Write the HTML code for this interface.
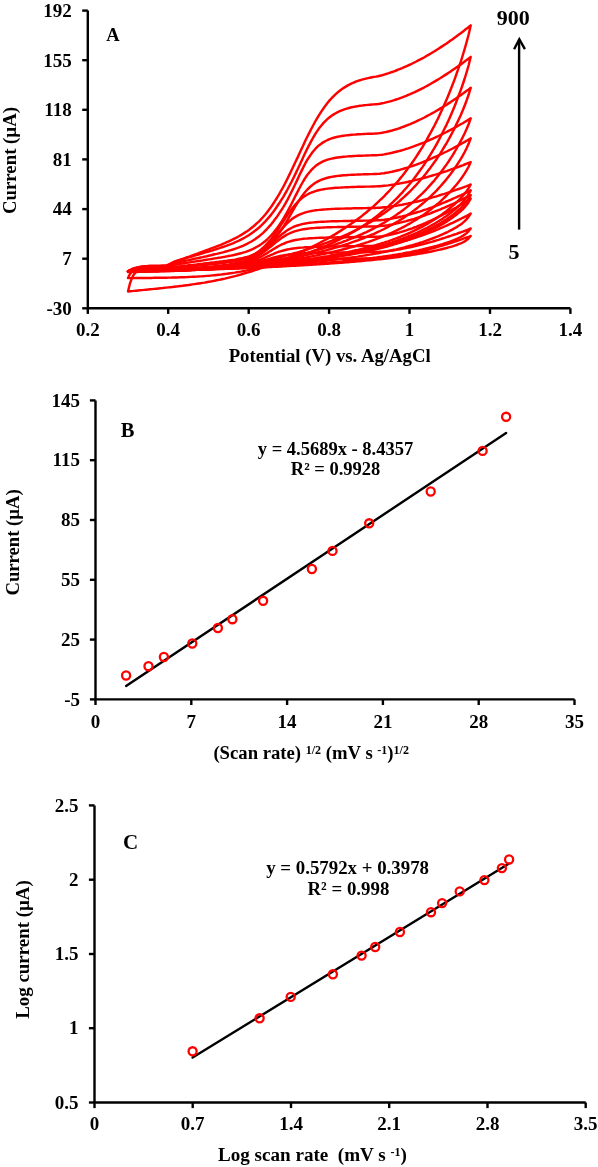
<!DOCTYPE html>
<html><head><meta charset="utf-8"><style>
html,body{margin:0;padding:0;background:#fff;}
body{width:598px;height:1167px;overflow:hidden;}
svg{display:block;will-change:transform;}
text{font-family:"Liberation Serif", serif;font-weight:bold;fill:#000;}
</style></head><body>
<svg width="598" height="1167" viewBox="0 0 598 1167">
<path d="M87.8,10.6 V308.3 H570.4" fill="none" stroke="#000" stroke-width="2.4" stroke-linejoin="miter"/>
<line x1="82.2" y1="10.6" x2="87.8" y2="10.6" stroke="#000" stroke-width="2.4" stroke-linecap="butt"/>
<line x1="82.2" y1="60.2" x2="87.8" y2="60.2" stroke="#000" stroke-width="2.4" stroke-linecap="butt"/>
<line x1="82.2" y1="109.8" x2="87.8" y2="109.8" stroke="#000" stroke-width="2.4" stroke-linecap="butt"/>
<line x1="82.2" y1="159.4" x2="87.8" y2="159.4" stroke="#000" stroke-width="2.4" stroke-linecap="butt"/>
<line x1="82.2" y1="209.1" x2="87.8" y2="209.1" stroke="#000" stroke-width="2.4" stroke-linecap="butt"/>
<line x1="82.2" y1="258.7" x2="87.8" y2="258.7" stroke="#000" stroke-width="2.4" stroke-linecap="butt"/>
<line x1="82.2" y1="308.3" x2="87.8" y2="308.3" stroke="#000" stroke-width="2.4" stroke-linecap="butt"/>
<line x1="87.8" y1="308.3" x2="87.8" y2="313.9" stroke="#000" stroke-width="2.4" stroke-linecap="butt"/>
<line x1="168.2" y1="308.3" x2="168.2" y2="313.9" stroke="#000" stroke-width="2.4" stroke-linecap="butt"/>
<line x1="248.7" y1="308.3" x2="248.7" y2="313.9" stroke="#000" stroke-width="2.4" stroke-linecap="butt"/>
<line x1="329.1" y1="308.3" x2="329.1" y2="313.9" stroke="#000" stroke-width="2.4" stroke-linecap="butt"/>
<line x1="409.5" y1="308.3" x2="409.5" y2="313.9" stroke="#000" stroke-width="2.4" stroke-linecap="butt"/>
<line x1="490.0" y1="308.3" x2="490.0" y2="313.9" stroke="#000" stroke-width="2.4" stroke-linecap="butt"/>
<line x1="570.4" y1="308.3" x2="570.4" y2="313.9" stroke="#000" stroke-width="2.4" stroke-linecap="butt"/>
<text x="71.8" y="16.9" font-size="19" text-anchor="end" >192</text>
<text x="71.8" y="66.5" font-size="19" text-anchor="end" >155</text>
<text x="71.8" y="116.1" font-size="19" text-anchor="end" >118</text>
<text x="71.8" y="165.8" font-size="19" text-anchor="end" >81</text>
<text x="71.8" y="215.4" font-size="19" text-anchor="end" >44</text>
<text x="71.8" y="265.0" font-size="19" text-anchor="end" >7</text>
<text x="71.8" y="314.6" font-size="19" text-anchor="end" >-30</text>
<text x="87.8" y="336.0" font-size="19" text-anchor="middle" >0.2</text>
<text x="168.2" y="336.0" font-size="19" text-anchor="middle" >0.4</text>
<text x="248.7" y="336.0" font-size="19" text-anchor="middle" >0.6</text>
<text x="329.1" y="336.0" font-size="19" text-anchor="middle" >0.8</text>
<text x="409.5" y="336.0" font-size="19" text-anchor="middle" >1</text>
<text x="490.0" y="336.0" font-size="19" text-anchor="middle" >1.2</text>
<text x="570.4" y="336.0" font-size="19" text-anchor="middle" >1.4</text>
<text x="329.7" y="361.5" font-size="18.75" text-anchor="middle" >Potential (V) vs. Ag/AgCl</text>
<text x="113.0" y="40.6" font-size="18.5" text-anchor="middle" >A</text>
<text transform="translate(15.8,160.5) rotate(-90)" font-size="18.8" text-anchor="middle">Current (µA)</text>
<text x="513.2" y="25.4" font-size="22" text-anchor="middle" >900</text>
<text x="514.0" y="258.8" font-size="22" text-anchor="middle" >5</text>
<line x1="519.1" y1="229.6" x2="519.1" y2="40.0" stroke="#000" stroke-width="2.4" stroke-linecap="butt"/>
<path d="M514.1,49.2 L519.3,39.2 L524.9,49.2" fill="none" stroke="#000" stroke-width="2.4" stroke-linejoin="miter"/>
<g fill="none" stroke="#ff0000" stroke-width="2.45" stroke-linejoin="round">
<path d="M128.0,271.2 L130.0,270.8 L132.0,270.5 L134.1,270.3 L136.1,270.2 L138.1,270.1 L140.1,270.0 L142.1,270.0 L144.1,269.9 L146.2,269.9 L148.2,269.8 L150.2,269.8 L152.2,269.8 L154.2,269.7 L156.2,269.7 L158.3,269.7 L160.3,269.7 L162.3,269.6 L164.3,269.6 L166.3,269.6 L168.3,269.5 L170.4,269.5 L172.4,269.5 L174.4,269.4 L176.4,269.4 L178.4,269.3 L180.4,269.3 L182.5,269.3 L184.5,269.2 L186.5,269.2 L188.5,269.1 L190.5,269.1 L192.5,269.0 L194.5,269.0 L196.6,269.0 L198.6,268.9 L200.6,268.9 L202.6,268.8 L204.6,268.8 L206.6,268.7 L208.7,268.6 L210.7,268.6 L212.7,268.5 L214.7,268.5 L216.7,268.4 L218.7,268.3 L220.8,268.2 L222.8,268.1 L224.8,268.0 L226.8,267.9 L228.8,267.8 L230.8,267.7 L232.9,267.6 L234.9,267.4 L236.9,267.3 L238.9,267.1 L240.9,266.9 L242.9,266.7 L244.9,266.5 L247.0,266.2 L249.0,266.0 L251.0,265.7 L253.0,265.4 L255.0,265.1 L257.0,264.8 L259.1,264.4 L261.1,264.1 L263.1,263.7 L265.1,263.3 L267.1,263.0 L269.1,262.6 L271.2,262.3 L273.2,261.9 L275.2,261.6 L277.2,261.3 L279.2,261.1 L281.2,260.9 L283.3,260.7 L285.3,260.5 L287.3,260.3 L289.3,260.2 L291.3,260.0 L293.3,259.9 L295.3,259.8 L297.4,259.7 L299.4,259.7 L301.4,259.6 L303.4,259.5 L305.4,259.5 L307.4,259.4 L309.5,259.4 L311.5,259.3 L313.5,259.3 L315.5,259.2 L317.5,259.2 L319.5,259.2 L321.6,259.1 L323.6,259.1 L325.6,259.1 L327.6,259.0 L329.6,259.0 L331.6,259.0 L333.7,258.9 L335.7,258.9 L337.7,258.9 L339.7,258.8 L341.7,258.8 L343.7,258.8 L345.8,258.8 L347.8,258.7 L349.8,258.7 L351.8,258.7 L353.8,258.6 L355.8,258.6 L357.8,258.6 L359.9,258.6 L361.9,258.5 L363.9,258.5 L365.9,258.5 L367.9,258.4 L369.9,258.4 L372.0,258.4 L374.0,258.4 L376.0,258.3 L378.0,258.3 L380.0,258.1 L382.0,258.0 L384.1,257.8 L386.1,257.6 L388.1,257.4 L390.1,257.1 L392.1,256.9 L394.1,256.6 L396.2,256.3 L398.2,256.0 L400.2,255.6 L402.2,255.3 L404.2,254.9 L406.2,254.5 L408.2,254.1 L410.3,253.7 L412.3,253.3 L414.3,252.9 L416.3,252.4 L418.3,252.0 L420.3,251.5 L422.4,251.0 L424.4,250.5 L426.4,250.0 L428.4,249.5 L430.4,248.9 L432.4,248.4 L434.5,247.8 L436.5,247.3 L438.5,246.7 L440.5,246.1 L442.5,245.5 L444.5,244.9 L446.6,244.3 L448.6,243.6 L450.6,243.0 L452.6,242.3 L454.6,241.7 L456.6,241.0 L458.6,240.3 L460.7,239.6 L462.7,238.9 L464.7,238.2 L466.7,237.5 L468.7,236.8 L470.7,236.0 L468.7,238.3 L466.7,240.0 L464.7,241.4 L462.7,242.5 L460.7,243.4 L458.6,244.2 L456.6,245.0 L454.6,245.6 L452.6,246.3 L450.6,246.9 L448.6,247.4 L446.6,248.0 L444.5,248.5 L442.5,249.0 L440.5,249.5 L438.5,249.9 L436.5,250.4 L434.5,250.8 L432.4,251.2 L430.4,251.7 L428.4,252.1 L426.4,252.5 L424.4,252.8 L422.4,253.2 L420.3,253.6 L418.3,253.9 L416.3,254.3 L414.3,254.6 L412.3,254.9 L410.3,255.2 L408.2,255.5 L406.2,255.8 L404.2,256.1 L402.2,256.4 L400.2,256.7 L398.2,257.0 L396.2,257.2 L394.1,257.5 L392.1,257.8 L390.1,258.0 L388.1,258.3 L386.1,258.5 L384.1,258.7 L382.0,259.0 L380.0,259.2 L378.0,259.4 L376.0,259.6 L374.0,259.8 L372.0,260.0 L369.9,260.2 L367.9,260.4 L365.9,260.6 L363.9,260.8 L361.9,261.0 L359.9,261.2 L357.8,261.4 L355.8,261.5 L353.8,261.7 L351.8,261.9 L349.8,262.0 L347.8,262.2 L345.8,262.4 L343.7,262.5 L341.7,262.7 L339.7,262.8 L337.7,263.0 L335.7,263.1 L333.7,263.3 L331.6,263.4 L329.6,263.6 L327.6,263.7 L325.6,263.8 L323.6,264.0 L321.6,264.1 L319.5,264.2 L317.5,264.4 L315.5,264.5 L313.5,264.6 L311.5,264.8 L309.5,264.9 L307.4,265.0 L305.4,265.1 L303.4,265.2 L301.4,265.4 L299.4,265.5 L297.4,265.6 L295.3,265.7 L293.3,265.8 L291.3,265.9 L289.3,266.0 L287.3,266.1 L285.3,266.3 L283.3,266.4 L281.2,266.5 L279.2,266.6 L277.2,266.7 L275.2,266.8 L273.2,266.9 L271.2,267.0 L269.1,267.1 L267.1,267.2 L265.1,267.3 L263.1,267.3 L261.1,267.4 L259.1,267.5 L257.0,267.6 L255.0,267.7 L253.0,267.8 L251.0,267.9 L249.0,268.0 L247.0,268.1 L244.9,268.1 L242.9,268.2 L240.9,268.3 L238.9,268.4 L236.9,268.4 L234.9,268.5 L232.9,268.6 L230.8,268.7 L228.8,268.7 L226.8,268.8 L224.8,268.9 L222.8,268.9 L220.8,269.0 L218.7,269.1 L216.7,269.1 L214.7,269.2 L212.7,269.3 L210.7,269.3 L208.7,269.4 L206.6,269.4 L204.6,269.5 L202.6,269.5 L200.6,269.6 L198.6,269.6 L196.6,269.7 L194.5,269.7 L192.5,269.8 L190.5,269.8 L188.5,269.9 L186.5,269.9 L184.5,270.0 L182.5,270.0 L180.4,270.1 L178.4,270.1 L176.4,270.2 L174.4,270.2 L172.4,270.3 L170.4,270.3 L168.3,270.3 L166.3,270.4 L164.3,270.4 L162.3,270.5 L160.3,270.5 L158.3,270.5 L156.2,270.6 L154.2,270.6 L152.2,270.7 L150.2,270.7 L148.2,270.8 L146.2,270.8 L144.1,270.8 L142.1,270.9 L140.1,270.9 L138.1,271.0 L136.1,271.0 L134.1,271.0 L132.0,271.1 L130.0,271.1Z"/>
<path d="M128.0,271.2 L130.0,270.8 L132.0,270.5 L134.1,270.3 L136.1,270.2 L138.1,270.1 L140.1,270.0 L142.1,270.0 L144.1,269.9 L146.2,269.9 L148.2,269.8 L150.2,269.8 L152.2,269.8 L154.2,269.7 L156.2,269.7 L158.3,269.7 L160.3,269.6 L162.3,269.6 L164.3,269.6 L166.3,269.6 L168.3,269.5 L170.4,269.5 L172.4,269.5 L174.4,269.4 L176.4,269.4 L178.4,269.3 L180.4,269.3 L182.5,269.3 L184.5,269.2 L186.5,269.2 L188.5,269.1 L190.5,269.1 L192.5,269.0 L194.5,269.0 L196.6,268.9 L198.6,268.9 L200.6,268.8 L202.6,268.8 L204.6,268.7 L206.6,268.6 L208.7,268.6 L210.7,268.5 L212.7,268.4 L214.7,268.3 L216.7,268.2 L218.7,268.2 L220.8,268.0 L222.8,267.9 L224.8,267.8 L226.8,267.7 L228.8,267.5 L230.8,267.3 L232.9,267.1 L234.9,266.9 L236.9,266.7 L238.9,266.4 L240.9,266.1 L242.9,265.8 L244.9,265.4 L247.0,265.1 L249.0,264.6 L251.0,264.2 L253.0,263.7 L255.0,263.2 L257.0,262.7 L259.1,262.1 L261.1,261.5 L263.1,260.9 L265.1,260.2 L267.1,259.6 L269.1,259.0 L271.2,258.3 L273.2,257.7 L275.2,257.2 L277.2,256.7 L279.2,256.2 L281.2,255.8 L283.3,255.4 L285.3,255.0 L287.3,254.8 L289.3,254.5 L291.3,254.3 L293.3,254.1 L295.3,253.9 L297.4,253.8 L299.4,253.6 L301.4,253.5 L303.4,253.4 L305.4,253.3 L307.4,253.2 L309.5,253.2 L311.5,253.1 L313.5,253.0 L315.5,253.0 L317.5,252.9 L319.5,252.9 L321.6,252.9 L323.6,252.8 L325.6,252.8 L327.6,252.7 L329.6,252.7 L331.6,252.7 L333.7,252.6 L335.7,252.6 L337.7,252.6 L339.7,252.5 L341.7,252.5 L343.7,252.5 L345.8,252.5 L347.8,252.4 L349.8,252.4 L351.8,252.4 L353.8,252.3 L355.8,252.3 L357.8,252.3 L359.9,252.2 L361.9,252.2 L363.9,252.2 L365.9,252.2 L367.9,252.1 L369.9,252.1 L372.0,252.1 L374.0,252.1 L376.0,252.0 L378.0,251.9 L380.0,251.8 L382.0,251.7 L384.1,251.5 L386.1,251.3 L388.1,251.0 L390.1,250.8 L392.1,250.5 L394.1,250.2 L396.2,249.9 L398.2,249.5 L400.2,249.2 L402.2,248.8 L404.2,248.4 L406.2,248.0 L408.2,247.6 L410.3,247.2 L412.3,246.7 L414.3,246.3 L416.3,245.8 L418.3,245.3 L420.3,244.8 L422.4,244.3 L424.4,243.8 L426.4,243.2 L428.4,242.7 L430.4,242.1 L432.4,241.6 L434.5,241.0 L436.5,240.4 L438.5,239.8 L440.5,239.1 L442.5,238.5 L444.5,237.9 L446.6,237.2 L448.6,236.5 L450.6,235.9 L452.6,235.2 L454.6,234.5 L456.6,233.8 L458.6,233.0 L460.7,232.3 L462.7,231.6 L464.7,230.8 L466.7,230.1 L468.7,229.3 L470.7,228.5 L468.7,231.1 L466.7,233.0 L464.7,234.6 L462.7,235.9 L460.7,237.0 L458.6,238.0 L456.6,239.0 L454.6,239.8 L452.6,240.6 L450.6,241.4 L448.6,242.1 L446.6,242.8 L444.5,243.4 L442.5,244.1 L440.5,244.7 L438.5,245.3 L436.5,245.9 L434.5,246.4 L432.4,247.0 L430.4,247.5 L428.4,248.0 L426.4,248.5 L424.4,249.0 L422.4,249.5 L420.3,249.9 L418.3,250.4 L416.3,250.8 L414.3,251.2 L412.3,251.6 L410.3,252.1 L408.2,252.4 L406.2,252.8 L404.2,253.2 L402.2,253.6 L400.2,253.9 L398.2,254.3 L396.2,254.6 L394.1,254.9 L392.1,255.3 L390.1,255.6 L388.1,255.9 L386.1,256.2 L384.1,256.5 L382.0,256.8 L380.0,257.0 L378.0,257.3 L376.0,257.6 L374.0,257.8 L372.0,258.1 L369.9,258.3 L367.9,258.6 L365.9,258.8 L363.9,259.1 L361.9,259.3 L359.9,259.5 L357.8,259.7 L355.8,260.0 L353.8,260.2 L351.8,260.4 L349.8,260.6 L347.8,260.8 L345.8,261.0 L343.7,261.2 L341.7,261.4 L339.7,261.6 L337.7,261.8 L335.7,261.9 L333.7,262.1 L331.6,262.3 L329.6,262.5 L327.6,262.6 L325.6,262.8 L323.6,263.0 L321.6,263.1 L319.5,263.3 L317.5,263.4 L315.5,263.6 L313.5,263.8 L311.5,263.9 L309.5,264.1 L307.4,264.2 L305.4,264.4 L303.4,264.5 L301.4,264.6 L299.4,264.8 L297.4,264.9 L295.3,265.1 L293.3,265.2 L291.3,265.3 L289.3,265.5 L287.3,265.6 L285.3,265.7 L283.3,265.8 L281.2,266.0 L279.2,266.1 L277.2,266.2 L275.2,266.3 L273.2,266.4 L271.2,266.6 L269.1,266.7 L267.1,266.8 L265.1,266.9 L263.1,267.0 L261.1,267.1 L259.1,267.2 L257.0,267.3 L255.0,267.4 L253.0,267.5 L251.0,267.6 L249.0,267.7 L247.0,267.8 L244.9,267.9 L242.9,268.0 L240.9,268.1 L238.9,268.2 L236.9,268.3 L234.9,268.4 L232.9,268.5 L230.8,268.5 L228.8,268.6 L226.8,268.7 L224.8,268.8 L222.8,268.8 L220.8,268.9 L218.7,269.0 L216.7,269.1 L214.7,269.1 L212.7,269.2 L210.7,269.3 L208.7,269.3 L206.6,269.4 L204.6,269.4 L202.6,269.5 L200.6,269.6 L198.6,269.6 L196.6,269.7 L194.5,269.7 L192.5,269.8 L190.5,269.8 L188.5,269.9 L186.5,269.9 L184.5,270.0 L182.5,270.0 L180.4,270.1 L178.4,270.1 L176.4,270.2 L174.4,270.2 L172.4,270.2 L170.4,270.3 L168.3,270.3 L166.3,270.4 L164.3,270.4 L162.3,270.5 L160.3,270.5 L158.3,270.5 L156.2,270.6 L154.2,270.6 L152.2,270.7 L150.2,270.7 L148.2,270.8 L146.2,270.8 L144.1,270.8 L142.1,270.9 L140.1,270.9 L138.1,271.0 L136.1,271.0 L134.1,271.0 L132.0,271.1 L130.0,271.1Z"/>
<path d="M128.0,271.2 L130.0,270.8 L132.0,270.5 L134.1,270.3 L136.1,270.2 L138.1,270.1 L140.1,270.0 L142.1,270.0 L144.1,269.9 L146.2,269.9 L148.2,269.8 L150.2,269.8 L152.2,269.8 L154.2,269.7 L156.2,269.7 L158.3,269.7 L160.3,269.6 L162.3,269.6 L164.3,269.6 L166.3,269.6 L168.3,269.5 L170.4,269.5 L172.4,269.5 L174.4,269.4 L176.4,269.4 L178.4,269.3 L180.4,269.3 L182.5,269.2 L184.5,269.2 L186.5,269.2 L188.5,269.1 L190.5,269.1 L192.5,269.0 L194.5,269.0 L196.6,268.9 L198.6,268.8 L200.6,268.8 L202.6,268.7 L204.6,268.7 L206.6,268.6 L208.7,268.5 L210.7,268.4 L212.7,268.3 L214.7,268.3 L216.7,268.1 L218.7,268.0 L220.8,267.9 L222.8,267.8 L224.8,267.6 L226.8,267.4 L228.8,267.2 L230.8,267.0 L232.9,266.8 L234.9,266.5 L236.9,266.2 L238.9,265.9 L240.9,265.5 L242.9,265.1 L244.9,264.6 L247.0,264.1 L249.0,263.6 L251.0,263.0 L253.0,262.4 L255.0,261.7 L257.0,261.0 L259.1,260.2 L261.1,259.4 L263.1,258.5 L265.1,257.6 L267.1,256.7 L269.1,255.8 L271.2,254.9 L273.2,254.1 L275.2,253.2 L277.2,252.4 L279.2,251.7 L281.2,251.1 L283.3,250.5 L285.3,250.0 L287.3,249.5 L289.3,249.1 L291.3,248.8 L293.3,248.5 L295.3,248.2 L297.4,248.0 L299.4,247.8 L301.4,247.6 L303.4,247.5 L305.4,247.3 L307.4,247.2 L309.5,247.1 L311.5,247.0 L313.5,247.0 L315.5,246.9 L317.5,246.8 L319.5,246.8 L321.6,246.7 L323.6,246.7 L325.6,246.6 L327.6,246.6 L329.6,246.6 L331.6,246.5 L333.7,246.5 L335.7,246.4 L337.7,246.4 L339.7,246.4 L341.7,246.3 L343.7,246.3 L345.8,246.3 L347.8,246.3 L349.8,246.2 L351.8,246.2 L353.8,246.2 L355.8,246.1 L357.8,246.1 L359.9,246.1 L361.9,246.0 L363.9,246.0 L365.9,246.0 L367.9,246.0 L369.9,245.9 L372.0,245.9 L374.0,245.9 L376.0,245.9 L378.0,245.8 L380.0,245.6 L382.0,245.4 L384.1,245.1 L386.1,244.9 L388.1,244.5 L390.1,244.2 L392.1,243.8 L394.1,243.4 L396.2,243.0 L398.2,242.5 L400.2,242.0 L402.2,241.5 L404.2,241.0 L406.2,240.5 L408.2,239.9 L410.3,239.3 L412.3,238.7 L414.3,238.1 L416.3,237.4 L418.3,236.7 L420.3,236.1 L422.4,235.4 L424.4,234.6 L426.4,233.9 L428.4,233.1 L430.4,232.4 L432.4,231.6 L434.5,230.8 L436.5,229.9 L438.5,229.1 L440.5,228.2 L442.5,227.4 L444.5,226.5 L446.6,225.6 L448.6,224.7 L450.6,223.7 L452.6,222.8 L454.6,221.8 L456.6,220.9 L458.6,219.9 L460.7,218.9 L462.7,217.8 L464.7,216.8 L466.7,215.8 L468.7,214.7 L470.7,213.6 L468.7,216.7 L466.7,219.1 L464.7,221.1 L462.7,222.9 L460.7,224.4 L458.6,225.8 L456.6,227.1 L454.6,228.2 L452.6,229.4 L450.6,230.4 L448.6,231.5 L446.6,232.5 L444.5,233.4 L442.5,234.3 L440.5,235.2 L438.5,236.1 L436.5,236.9 L434.5,237.7 L432.4,238.5 L430.4,239.2 L428.4,240.0 L426.4,240.7 L424.4,241.4 L422.4,242.1 L420.3,242.7 L418.3,243.4 L416.3,244.0 L414.3,244.6 L412.3,245.2 L410.3,245.7 L408.2,246.3 L406.2,246.8 L404.2,247.4 L402.2,247.9 L400.2,248.4 L398.2,248.9 L396.2,249.4 L394.1,249.8 L392.1,250.3 L390.1,250.7 L388.1,251.1 L386.1,251.6 L384.1,252.0 L382.0,252.4 L380.0,252.8 L378.0,253.2 L376.0,253.5 L374.0,253.9 L372.0,254.3 L369.9,254.6 L367.9,254.9 L365.9,255.3 L363.9,255.6 L361.9,255.9 L359.9,256.2 L357.8,256.6 L355.8,256.9 L353.8,257.1 L351.8,257.4 L349.8,257.7 L347.8,258.0 L345.8,258.3 L343.7,258.5 L341.7,258.8 L339.7,259.1 L337.7,259.3 L335.7,259.6 L333.7,259.8 L331.6,260.0 L329.6,260.3 L327.6,260.5 L325.6,260.7 L323.6,261.0 L321.6,261.2 L319.5,261.4 L317.5,261.6 L315.5,261.8 L313.5,262.0 L311.5,262.2 L309.5,262.4 L307.4,262.6 L305.4,262.8 L303.4,263.0 L301.4,263.2 L299.4,263.4 L297.4,263.6 L295.3,263.8 L293.3,263.9 L291.3,264.1 L289.3,264.3 L287.3,264.5 L285.3,264.6 L283.3,264.8 L281.2,265.0 L279.2,265.1 L277.2,265.3 L275.2,265.4 L273.2,265.6 L271.2,265.7 L269.1,265.9 L267.1,266.0 L265.1,266.2 L263.1,266.3 L261.1,266.5 L259.1,266.6 L257.0,266.7 L255.0,266.9 L253.0,267.0 L251.0,267.1 L249.0,267.3 L247.0,267.4 L244.9,267.5 L242.9,267.6 L240.9,267.7 L238.9,267.8 L236.9,268.0 L234.9,268.1 L232.9,268.2 L230.8,268.3 L228.8,268.4 L226.8,268.5 L224.8,268.6 L222.8,268.6 L220.8,268.7 L218.7,268.8 L216.7,268.9 L214.7,269.0 L212.7,269.1 L210.7,269.1 L208.7,269.2 L206.6,269.3 L204.6,269.4 L202.6,269.4 L200.6,269.5 L198.6,269.6 L196.6,269.6 L194.5,269.7 L192.5,269.7 L190.5,269.8 L188.5,269.8 L186.5,269.9 L184.5,269.9 L182.5,270.0 L180.4,270.0 L178.4,270.1 L176.4,270.1 L174.4,270.2 L172.4,270.2 L170.4,270.3 L168.3,270.3 L166.3,270.4 L164.3,270.4 L162.3,270.5 L160.3,270.5 L158.3,270.5 L156.2,270.6 L154.2,270.6 L152.2,270.7 L150.2,270.7 L148.2,270.7 L146.2,270.8 L144.1,270.8 L142.1,270.9 L140.1,270.9 L138.1,271.0 L136.1,271.0 L134.1,271.0 L132.0,271.1 L130.0,271.1Z"/>
<path d="M128.0,271.2 L130.0,270.8 L132.0,270.5 L134.1,270.3 L136.1,270.2 L138.1,270.1 L140.1,270.0 L142.1,270.0 L144.1,269.9 L146.2,269.9 L148.2,269.8 L150.2,269.8 L152.2,269.8 L154.2,269.7 L156.2,269.7 L158.3,269.7 L160.3,269.6 L162.3,269.6 L164.3,269.6 L166.3,269.6 L168.3,269.5 L170.4,269.5 L172.4,269.4 L174.4,269.4 L176.4,269.3 L178.4,269.3 L180.4,269.2 L182.5,269.2 L184.5,269.1 L186.5,269.0 L188.5,269.0 L190.5,268.9 L192.5,268.8 L194.5,268.8 L196.6,268.7 L198.6,268.6 L200.6,268.6 L202.6,268.5 L204.6,268.4 L206.6,268.3 L208.7,268.2 L210.7,268.1 L212.7,268.0 L214.7,267.9 L216.7,267.8 L218.7,267.6 L220.8,267.5 L222.8,267.3 L224.8,267.1 L226.8,266.9 L228.8,266.7 L230.8,266.4 L232.9,266.1 L234.9,265.8 L236.9,265.4 L238.9,265.0 L240.9,264.6 L242.9,264.0 L244.9,263.5 L247.0,262.9 L249.0,262.2 L251.0,261.4 L253.0,260.6 L255.0,259.7 L257.0,258.8 L259.1,257.7 L261.1,256.7 L263.1,255.5 L265.1,254.3 L267.1,253.1 L269.1,251.8 L271.2,250.6 L273.2,249.3 L275.2,248.1 L277.2,246.9 L279.2,245.8 L281.2,244.7 L283.3,243.8 L285.3,243.0 L287.3,242.2 L289.3,241.6 L291.3,241.0 L293.3,240.5 L295.3,240.0 L297.4,239.7 L299.4,239.4 L301.4,239.1 L303.4,238.8 L305.4,238.6 L307.4,238.5 L309.5,238.3 L311.5,238.2 L313.5,238.1 L315.5,238.0 L317.5,237.9 L319.5,237.8 L321.6,237.7 L323.6,237.7 L325.6,237.6 L327.6,237.5 L329.6,237.5 L331.6,237.4 L333.7,237.4 L335.7,237.4 L337.7,237.3 L339.7,237.3 L341.7,237.2 L343.7,237.2 L345.8,237.2 L347.8,237.1 L349.8,237.1 L351.8,237.1 L353.8,237.0 L355.8,237.0 L357.8,237.0 L359.9,237.0 L361.9,236.9 L363.9,236.9 L365.9,236.9 L367.9,236.8 L369.9,236.8 L372.0,236.8 L374.0,236.7 L376.0,236.7 L378.0,236.6 L380.0,236.4 L382.0,236.2 L384.1,235.9 L386.1,235.6 L388.1,235.2 L390.1,234.8 L392.1,234.3 L394.1,233.8 L396.2,233.3 L398.2,232.8 L400.2,232.2 L402.2,231.6 L404.2,231.0 L406.2,230.4 L408.2,229.7 L410.3,229.0 L412.3,228.3 L414.3,227.5 L416.3,226.8 L418.3,226.0 L420.3,225.2 L422.4,224.3 L424.4,223.5 L426.4,222.6 L428.4,221.7 L430.4,220.8 L432.4,219.9 L434.5,218.9 L436.5,217.9 L438.5,216.9 L440.5,215.9 L442.5,214.9 L444.5,213.8 L446.6,212.8 L448.6,211.7 L450.6,210.6 L452.6,209.5 L454.6,208.3 L456.6,207.2 L458.6,206.0 L460.7,204.8 L462.7,203.6 L464.7,202.4 L466.7,201.1 L468.7,199.9 L470.7,198.6 L468.7,202.0 L466.7,204.8 L464.7,207.2 L462.7,209.3 L460.7,211.2 L458.6,212.9 L456.6,214.5 L454.6,216.1 L452.6,217.6 L450.6,219.0 L448.6,220.3 L446.6,221.6 L444.5,222.9 L442.5,224.1 L440.5,225.2 L438.5,226.4 L436.5,227.5 L434.5,228.5 L432.4,229.5 L430.4,230.5 L428.4,231.5 L426.4,232.5 L424.4,233.4 L422.4,234.3 L420.3,235.1 L418.3,236.0 L416.3,236.8 L414.3,237.6 L412.3,238.3 L410.3,239.1 L408.2,239.8 L406.2,240.5 L404.2,241.2 L402.2,241.9 L400.2,242.6 L398.2,243.2 L396.2,243.8 L394.1,244.4 L392.1,245.0 L390.1,245.6 L388.1,246.2 L386.1,246.7 L384.1,247.2 L382.0,247.8 L380.0,248.3 L378.0,248.8 L376.0,249.3 L374.0,249.7 L372.0,250.2 L369.9,250.7 L367.9,251.1 L365.9,251.5 L363.9,252.0 L361.9,252.4 L359.9,252.8 L357.8,253.2 L355.8,253.6 L353.8,254.0 L351.8,254.3 L349.8,254.7 L347.8,255.0 L345.8,255.4 L343.7,255.7 L341.7,256.1 L339.7,256.4 L337.7,256.7 L335.7,257.1 L333.7,257.4 L331.6,257.7 L329.6,258.0 L327.6,258.3 L325.6,258.6 L323.6,258.8 L321.6,259.1 L319.5,259.4 L317.5,259.7 L315.5,259.9 L313.5,260.2 L311.5,260.5 L309.5,260.7 L307.4,261.0 L305.4,261.2 L303.4,261.5 L301.4,261.7 L299.4,261.9 L297.4,262.2 L295.3,262.4 L293.3,262.6 L291.3,262.8 L289.3,263.1 L287.3,263.3 L285.3,263.5 L283.3,263.7 L281.2,263.9 L279.2,264.1 L277.2,264.3 L275.2,264.5 L273.2,264.7 L271.2,264.9 L269.1,265.1 L267.1,265.3 L265.1,265.4 L263.1,265.6 L261.1,265.8 L259.1,266.0 L257.0,266.1 L255.0,266.3 L253.0,266.4 L251.0,266.6 L249.0,266.8 L247.0,266.9 L244.9,267.1 L242.9,267.2 L240.9,267.3 L238.9,267.5 L236.9,267.6 L234.9,267.7 L232.9,267.9 L230.8,268.0 L228.8,268.1 L226.8,268.2 L224.8,268.3 L222.8,268.4 L220.8,268.5 L218.7,268.6 L216.7,268.7 L214.7,268.8 L212.7,268.9 L210.7,269.0 L208.7,269.1 L206.6,269.2 L204.6,269.3 L202.6,269.3 L200.6,269.4 L198.6,269.5 L196.6,269.6 L194.5,269.6 L192.5,269.7 L190.5,269.7 L188.5,269.8 L186.5,269.9 L184.5,269.9 L182.5,270.0 L180.4,270.0 L178.4,270.1 L176.4,270.1 L174.4,270.2 L172.4,270.2 L170.4,270.3 L168.3,270.3 L166.3,270.4 L164.3,270.4 L162.3,270.5 L160.3,270.5 L158.3,270.5 L156.2,270.6 L154.2,270.6 L152.2,270.7 L150.2,270.7 L148.2,270.7 L146.2,270.8 L144.1,270.8 L142.1,270.9 L140.1,270.9 L138.1,271.0 L136.1,271.0 L134.1,271.0 L132.0,271.1 L130.0,271.1Z"/>
<path d="M128.0,271.2 L130.0,270.8 L132.0,270.5 L134.1,270.3 L136.1,270.2 L138.1,270.1 L140.1,270.0 L142.1,270.0 L144.1,269.9 L146.2,269.9 L148.2,269.8 L150.2,269.8 L152.2,269.8 L154.2,269.7 L156.2,269.7 L158.3,269.7 L160.3,269.6 L162.3,269.6 L164.3,269.6 L166.3,269.5 L168.3,269.5 L170.4,269.5 L172.4,269.4 L174.4,269.3 L176.4,269.2 L178.4,269.2 L180.4,269.1 L182.5,269.0 L184.5,268.9 L186.5,268.8 L188.5,268.7 L190.5,268.6 L192.5,268.5 L194.5,268.5 L196.6,268.4 L198.6,268.3 L200.6,268.2 L202.6,268.1 L204.6,267.9 L206.6,267.8 L208.7,267.7 L210.7,267.6 L212.7,267.4 L214.7,267.3 L216.7,267.1 L218.7,267.0 L220.8,266.8 L222.8,266.6 L224.8,266.4 L226.8,266.1 L228.8,265.8 L230.8,265.5 L232.9,265.2 L234.9,264.8 L236.9,264.4 L238.9,263.9 L240.9,263.4 L242.9,262.8 L244.9,262.1 L247.0,261.4 L249.0,260.6 L251.0,259.7 L253.0,258.7 L255.0,257.7 L257.0,256.5 L259.1,255.3 L261.1,254.0 L263.1,252.6 L265.1,251.1 L267.1,249.5 L269.1,247.9 L271.2,246.2 L273.2,244.6 L275.2,242.9 L277.2,241.3 L279.2,239.7 L281.2,238.2 L283.3,236.9 L285.3,235.6 L287.3,234.5 L289.3,233.5 L291.3,232.6 L293.3,231.8 L295.3,231.1 L297.4,230.6 L299.4,230.1 L301.4,229.6 L303.4,229.3 L305.4,229.0 L307.4,228.7 L309.5,228.4 L311.5,228.2 L313.5,228.1 L315.5,227.9 L317.5,227.8 L319.5,227.7 L321.6,227.6 L323.6,227.5 L325.6,227.4 L327.6,227.3 L329.6,227.3 L331.6,227.2 L333.7,227.1 L335.7,227.1 L337.7,227.0 L339.7,227.0 L341.7,226.9 L343.7,226.9 L345.8,226.9 L347.8,226.8 L349.8,226.8 L351.8,226.7 L353.8,226.7 L355.8,226.7 L357.8,226.6 L359.9,226.6 L361.9,226.6 L363.9,226.5 L365.9,226.5 L367.9,226.5 L369.9,226.4 L372.0,226.4 L374.0,226.4 L376.0,226.4 L378.0,226.3 L380.0,226.1 L382.0,225.9 L384.1,225.7 L386.1,225.4 L388.1,225.1 L390.1,224.7 L392.1,224.4 L394.1,224.0 L396.2,223.5 L398.2,223.1 L400.2,222.6 L402.2,222.1 L404.2,221.6 L406.2,221.1 L408.2,220.5 L410.3,220.0 L412.3,219.4 L414.3,218.8 L416.3,218.1 L418.3,217.5 L420.3,216.8 L422.4,216.2 L424.4,215.5 L426.4,214.7 L428.4,214.0 L430.4,213.3 L432.4,212.5 L434.5,211.7 L436.5,210.9 L438.5,210.1 L440.5,209.3 L442.5,208.4 L444.5,207.6 L446.6,206.7 L448.6,205.8 L450.6,204.9 L452.6,204.0 L454.6,203.1 L456.6,202.1 L458.6,201.2 L460.7,200.2 L462.7,199.2 L464.7,198.2 L466.7,197.2 L468.7,196.2 L470.7,195.1 L468.7,198.7 L466.7,201.6 L464.7,204.0 L462.7,206.2 L460.7,208.2 L458.6,210.0 L456.6,211.7 L454.6,213.4 L452.6,214.9 L450.6,216.4 L448.6,217.8 L446.6,219.2 L444.5,220.5 L442.5,221.8 L440.5,223.0 L438.5,224.2 L436.5,225.4 L434.5,226.5 L432.4,227.6 L430.4,228.6 L428.4,229.6 L426.4,230.6 L424.4,231.6 L422.4,232.5 L420.3,233.4 L418.3,234.3 L416.3,235.2 L414.3,236.0 L412.3,236.8 L410.3,237.6 L408.2,238.4 L406.2,239.1 L404.2,239.9 L402.2,240.6 L400.2,241.3 L398.2,241.9 L396.2,242.6 L394.1,243.2 L392.1,243.9 L390.1,244.5 L388.1,245.1 L386.1,245.6 L384.1,246.2 L382.0,246.7 L380.0,247.3 L378.0,247.8 L376.0,248.3 L374.0,248.8 L372.0,249.3 L369.9,249.8 L367.9,250.3 L365.9,250.7 L363.9,251.2 L361.9,251.6 L359.9,252.0 L357.8,252.4 L355.8,252.8 L353.8,253.2 L351.8,253.6 L349.8,254.0 L347.8,254.4 L345.8,254.8 L343.7,255.1 L341.7,255.5 L339.7,255.8 L337.7,256.2 L335.7,256.5 L333.7,256.8 L331.6,257.1 L329.6,257.5 L327.6,257.8 L325.6,258.1 L323.6,258.4 L321.6,258.7 L319.5,259.0 L317.5,259.2 L315.5,259.5 L313.5,259.8 L311.5,260.1 L309.5,260.3 L307.4,260.6 L305.4,260.9 L303.4,261.1 L301.4,261.4 L299.4,261.6 L297.4,261.9 L295.3,262.1 L293.3,262.3 L291.3,262.6 L289.3,262.8 L287.3,263.0 L285.3,263.2 L283.3,263.5 L281.2,263.7 L279.2,263.9 L277.2,264.1 L275.2,264.3 L273.2,264.5 L271.2,264.7 L269.1,264.9 L267.1,265.1 L265.1,265.3 L263.1,265.4 L261.1,265.6 L259.1,265.8 L257.0,266.0 L255.0,266.2 L253.0,266.3 L251.0,266.5 L249.0,266.6 L247.0,266.8 L244.9,267.0 L242.9,267.1 L240.9,267.2 L238.9,267.4 L236.9,267.5 L234.9,267.7 L232.9,267.8 L230.8,267.9 L228.8,268.0 L226.8,268.2 L224.8,268.3 L222.8,268.4 L220.8,268.5 L218.7,268.6 L216.7,268.7 L214.7,268.8 L212.7,268.9 L210.7,269.0 L208.7,269.1 L206.6,269.2 L204.6,269.2 L202.6,269.3 L200.6,269.4 L198.6,269.5 L196.6,269.5 L194.5,269.6 L192.5,269.7 L190.5,269.7 L188.5,269.8 L186.5,269.9 L184.5,269.9 L182.5,270.0 L180.4,270.0 L178.4,270.1 L176.4,270.1 L174.4,270.2 L172.4,270.2 L170.4,270.3 L168.3,270.3 L166.3,270.4 L164.3,270.4 L162.3,270.5 L160.3,270.5 L158.3,270.5 L156.2,270.6 L154.2,270.6 L152.2,270.7 L150.2,270.7 L148.2,270.7 L146.2,270.8 L144.1,270.8 L142.1,270.9 L140.1,270.9 L138.1,271.0 L136.1,271.0 L134.1,271.0 L132.0,271.1 L130.0,271.1Z"/>
<path d="M128.0,271.2 L130.0,270.8 L132.0,270.5 L134.1,270.3 L136.1,270.2 L138.1,270.1 L140.1,270.0 L142.1,270.0 L144.1,269.9 L146.2,269.9 L148.2,269.8 L150.2,269.8 L152.2,269.8 L154.2,269.7 L156.2,269.7 L158.3,269.7 L160.3,269.6 L162.3,269.6 L164.3,269.6 L166.3,269.5 L168.3,269.5 L170.4,269.4 L172.4,269.4 L174.4,269.3 L176.4,269.2 L178.4,269.1 L180.4,269.0 L182.5,268.9 L184.5,268.8 L186.5,268.7 L188.5,268.6 L190.5,268.5 L192.5,268.4 L194.5,268.3 L196.6,268.2 L198.6,268.1 L200.6,268.0 L202.6,267.8 L204.6,267.7 L206.6,267.6 L208.7,267.5 L210.7,267.3 L212.7,267.2 L214.7,267.0 L216.7,266.8 L218.7,266.7 L220.8,266.4 L222.8,266.2 L224.8,266.0 L226.8,265.7 L228.8,265.4 L230.8,265.1 L232.9,264.7 L234.9,264.3 L236.9,263.9 L238.9,263.4 L240.9,262.8 L242.9,262.2 L244.9,261.5 L247.0,260.7 L249.0,259.8 L251.0,258.9 L253.0,257.8 L255.0,256.7 L257.0,255.4 L259.1,254.1 L261.1,252.6 L263.1,251.1 L265.1,249.5 L267.1,247.7 L269.1,245.9 L271.2,244.1 L273.2,242.2 L275.2,240.3 L277.2,238.4 L279.2,236.6 L281.2,234.8 L283.3,233.2 L285.3,231.7 L287.3,230.3 L289.3,229.1 L291.3,228.0 L293.3,227.0 L295.3,226.2 L297.4,225.5 L299.4,224.9 L301.4,224.3 L303.4,223.9 L305.4,223.5 L307.4,223.1 L309.5,222.8 L311.5,222.6 L313.5,222.4 L315.5,222.2 L317.5,222.0 L319.5,221.9 L321.6,221.8 L323.6,221.7 L325.6,221.6 L327.6,221.5 L329.6,221.4 L331.6,221.3 L333.7,221.3 L335.7,221.2 L337.7,221.2 L339.7,221.1 L341.7,221.1 L343.7,221.0 L345.8,221.0 L347.8,220.9 L349.8,220.9 L351.8,220.8 L353.8,220.8 L355.8,220.8 L357.8,220.7 L359.9,220.7 L361.9,220.7 L363.9,220.6 L365.9,220.6 L367.9,220.6 L369.9,220.5 L372.0,220.5 L374.0,220.5 L376.0,220.4 L378.0,220.3 L380.0,220.2 L382.0,220.0 L384.1,219.8 L386.1,219.5 L388.1,219.2 L390.1,218.9 L392.1,218.5 L394.1,218.1 L396.2,217.7 L398.2,217.3 L400.2,216.8 L402.2,216.4 L404.2,215.9 L406.2,215.4 L408.2,214.8 L410.3,214.3 L412.3,213.7 L414.3,213.1 L416.3,212.5 L418.3,211.9 L420.3,211.3 L422.4,210.6 L424.4,209.9 L426.4,209.3 L428.4,208.6 L430.4,207.8 L432.4,207.1 L434.5,206.3 L436.5,205.6 L438.5,204.8 L440.5,204.0 L442.5,203.2 L444.5,202.4 L446.6,201.5 L448.6,200.7 L450.6,199.8 L452.6,198.9 L454.6,198.0 L456.6,197.1 L458.6,196.2 L460.7,195.3 L462.7,194.3 L464.7,193.4 L466.7,192.4 L468.7,191.4 L470.7,190.4 L468.7,194.2 L466.7,197.2 L464.7,199.8 L462.7,202.1 L460.7,204.2 L458.6,206.2 L456.6,208.0 L454.6,209.7 L452.6,211.4 L450.6,213.0 L448.6,214.5 L446.6,215.9 L444.5,217.3 L442.5,218.7 L440.5,220.0 L438.5,221.3 L436.5,222.5 L434.5,223.7 L432.4,224.9 L430.4,226.0 L428.4,227.1 L426.4,228.2 L424.4,229.2 L422.4,230.2 L420.3,231.2 L418.3,232.1 L416.3,233.0 L414.3,233.9 L412.3,234.8 L410.3,235.6 L408.2,236.4 L406.2,237.2 L404.2,238.0 L402.2,238.8 L400.2,239.5 L398.2,240.2 L396.2,240.9 L394.1,241.6 L392.1,242.3 L390.1,242.9 L388.1,243.6 L386.1,244.2 L384.1,244.8 L382.0,245.4 L380.0,245.9 L378.0,246.5 L376.0,247.0 L374.0,247.6 L372.0,248.1 L369.9,248.6 L367.9,249.1 L365.9,249.6 L363.9,250.1 L361.9,250.5 L359.9,251.0 L357.8,251.4 L355.8,251.9 L353.8,252.3 L351.8,252.7 L349.8,253.1 L347.8,253.5 L345.8,253.9 L343.7,254.3 L341.7,254.7 L339.7,255.0 L337.7,255.4 L335.7,255.7 L333.7,256.1 L331.6,256.4 L329.6,256.8 L327.6,257.1 L325.6,257.4 L323.6,257.7 L321.6,258.1 L319.5,258.4 L317.5,258.7 L315.5,259.0 L313.5,259.3 L311.5,259.5 L309.5,259.8 L307.4,260.1 L305.4,260.4 L303.4,260.6 L301.4,260.9 L299.4,261.2 L297.4,261.4 L295.3,261.7 L293.3,261.9 L291.3,262.2 L289.3,262.4 L287.3,262.7 L285.3,262.9 L283.3,263.1 L281.2,263.4 L279.2,263.6 L277.2,263.8 L275.2,264.0 L273.2,264.2 L271.2,264.4 L269.1,264.6 L267.1,264.8 L265.1,265.0 L263.1,265.2 L261.1,265.4 L259.1,265.6 L257.0,265.8 L255.0,266.0 L253.0,266.2 L251.0,266.3 L249.0,266.5 L247.0,266.7 L244.9,266.8 L242.9,267.0 L240.9,267.1 L238.9,267.3 L236.9,267.4 L234.9,267.6 L232.9,267.7 L230.8,267.8 L228.8,268.0 L226.8,268.1 L224.8,268.2 L222.8,268.3 L220.8,268.4 L218.7,268.6 L216.7,268.7 L214.7,268.8 L212.7,268.9 L210.7,269.0 L208.7,269.0 L206.6,269.1 L204.6,269.2 L202.6,269.3 L200.6,269.4 L198.6,269.5 L196.6,269.5 L194.5,269.6 L192.5,269.7 L190.5,269.7 L188.5,269.8 L186.5,269.8 L184.5,269.9 L182.5,270.0 L180.4,270.0 L178.4,270.1 L176.4,270.1 L174.4,270.2 L172.4,270.2 L170.4,270.3 L168.3,270.3 L166.3,270.4 L164.3,270.4 L162.3,270.5 L160.3,270.5 L158.3,270.5 L156.2,270.6 L154.2,270.6 L152.2,270.7 L150.2,270.7 L148.2,270.7 L146.2,270.8 L144.1,270.8 L142.1,270.9 L140.1,270.9 L138.1,271.0 L136.1,271.0 L134.1,271.0 L132.0,271.1 L130.0,271.1Z"/>
<path d="M128.0,271.2 L130.0,270.8 L132.0,270.5 L134.1,270.3 L136.1,270.2 L138.1,270.1 L140.1,270.0 L142.1,270.0 L144.1,269.9 L146.2,269.9 L148.2,269.8 L150.2,269.8 L152.2,269.8 L154.2,269.7 L156.2,269.7 L158.3,269.7 L160.3,269.6 L162.3,269.6 L164.3,269.6 L166.3,269.5 L168.3,269.5 L170.4,269.4 L172.4,269.3 L174.4,269.2 L176.4,269.1 L178.4,268.9 L180.4,268.8 L182.5,268.7 L184.5,268.5 L186.5,268.4 L188.5,268.3 L190.5,268.1 L192.5,268.0 L194.5,267.8 L196.6,267.7 L198.6,267.5 L200.6,267.4 L202.6,267.2 L204.6,267.1 L206.6,266.9 L208.7,266.7 L210.7,266.6 L212.7,266.4 L214.7,266.2 L216.7,266.0 L218.7,265.8 L220.8,265.6 L222.8,265.3 L224.8,265.1 L226.8,264.8 L228.8,264.5 L230.8,264.1 L232.9,263.7 L234.9,263.3 L236.9,262.8 L238.9,262.3 L240.9,261.7 L242.9,261.1 L244.9,260.4 L247.0,259.5 L249.0,258.6 L251.0,257.6 L253.0,256.5 L255.0,255.3 L257.0,254.0 L259.1,252.5 L261.1,250.9 L263.1,249.2 L265.1,247.4 L267.1,245.5 L269.1,243.4 L271.2,241.2 L273.2,239.0 L275.2,236.6 L277.2,234.3 L279.2,231.9 L281.2,229.6 L283.3,227.3 L285.3,225.2 L287.3,223.1 L289.3,221.3 L291.3,219.6 L293.3,218.1 L295.3,216.8 L297.4,215.7 L299.4,214.7 L301.4,213.8 L303.4,213.1 L305.4,212.4 L307.4,211.9 L309.5,211.4 L311.5,211.0 L313.5,210.6 L315.5,210.3 L317.5,210.1 L319.5,209.9 L321.6,209.7 L323.6,209.5 L325.6,209.4 L327.6,209.2 L329.6,209.1 L331.6,209.0 L333.7,208.9 L335.7,208.8 L337.7,208.8 L339.7,208.7 L341.7,208.6 L343.7,208.6 L345.8,208.5 L347.8,208.5 L349.8,208.4 L351.8,208.4 L353.8,208.3 L355.8,208.3 L357.8,208.2 L359.9,208.2 L361.9,208.2 L363.9,208.1 L365.9,208.1 L367.9,208.0 L369.9,208.0 L372.0,208.0 L374.0,207.9 L376.0,207.9 L378.0,207.8 L380.0,207.7 L382.0,207.5 L384.1,207.3 L386.1,207.1 L388.1,206.9 L390.1,206.6 L392.1,206.3 L394.1,206.0 L396.2,205.7 L398.2,205.4 L400.2,205.0 L402.2,204.7 L404.2,204.3 L406.2,203.9 L408.2,203.5 L410.3,203.0 L412.3,202.6 L414.3,202.1 L416.3,201.7 L418.3,201.2 L420.3,200.7 L422.4,200.2 L424.4,199.6 L426.4,199.1 L428.4,198.6 L430.4,198.0 L432.4,197.4 L434.5,196.9 L436.5,196.3 L438.5,195.7 L440.5,195.0 L442.5,194.4 L444.5,193.8 L446.6,193.1 L448.6,192.5 L450.6,191.8 L452.6,191.1 L454.6,190.4 L456.6,189.7 L458.6,189.0 L460.7,188.3 L462.7,187.6 L464.7,186.8 L466.7,186.1 L468.7,185.3 L470.7,184.5 L468.7,188.1 L466.7,191.0 L464.7,193.6 L462.7,196.0 L460.7,198.2 L458.6,200.3 L456.6,202.3 L454.6,204.2 L452.6,205.9 L450.6,207.7 L448.6,209.3 L446.6,210.9 L444.5,212.5 L442.5,214.0 L440.5,215.4 L438.5,216.8 L436.5,218.2 L434.5,219.5 L432.4,220.8 L430.4,222.0 L428.4,223.2 L426.4,224.4 L424.4,225.5 L422.4,226.6 L420.3,227.7 L418.3,228.7 L416.3,229.7 L414.3,230.7 L412.3,231.6 L410.3,232.6 L408.2,233.5 L406.2,234.3 L404.2,235.2 L402.2,236.0 L400.2,236.8 L398.2,237.6 L396.2,238.4 L394.1,239.1 L392.1,239.9 L390.1,240.6 L388.1,241.3 L386.1,241.9 L384.1,242.6 L382.0,243.2 L380.0,243.9 L378.0,244.5 L376.0,245.1 L374.0,245.7 L372.0,246.2 L369.9,246.8 L367.9,247.3 L365.9,247.9 L363.9,248.4 L361.9,248.9 L359.9,249.4 L357.8,249.9 L355.8,250.3 L353.8,250.8 L351.8,251.3 L349.8,251.7 L347.8,252.2 L345.8,252.6 L343.7,253.0 L341.7,253.4 L339.7,253.8 L337.7,254.2 L335.7,254.6 L333.7,255.0 L331.6,255.3 L329.6,255.7 L327.6,256.1 L325.6,256.4 L323.6,256.8 L321.6,257.1 L319.5,257.4 L317.5,257.8 L315.5,258.1 L313.5,258.4 L311.5,258.7 L309.5,259.0 L307.4,259.3 L305.4,259.6 L303.4,259.9 L301.4,260.2 L299.4,260.5 L297.4,260.8 L295.3,261.1 L293.3,261.3 L291.3,261.6 L289.3,261.9 L287.3,262.1 L285.3,262.4 L283.3,262.6 L281.2,262.9 L279.2,263.1 L277.2,263.3 L275.2,263.6 L273.2,263.8 L271.2,264.0 L269.1,264.3 L267.1,264.5 L265.1,264.7 L263.1,264.9 L261.1,265.1 L259.1,265.3 L257.0,265.5 L255.0,265.7 L253.0,265.9 L251.0,266.1 L249.0,266.3 L247.0,266.4 L244.9,266.6 L242.9,266.8 L240.9,266.9 L238.9,267.1 L236.9,267.3 L234.9,267.4 L232.9,267.6 L230.8,267.7 L228.8,267.8 L226.8,268.0 L224.8,268.1 L222.8,268.2 L220.8,268.4 L218.7,268.5 L216.7,268.6 L214.7,268.7 L212.7,268.8 L210.7,268.9 L208.7,269.0 L206.6,269.1 L204.6,269.2 L202.6,269.3 L200.6,269.3 L198.6,269.4 L196.6,269.5 L194.5,269.6 L192.5,269.6 L190.5,269.7 L188.5,269.8 L186.5,269.8 L184.5,269.9 L182.5,270.0 L180.4,270.0 L178.4,270.1 L176.4,270.1 L174.4,270.2 L172.4,270.2 L170.4,270.3 L168.3,270.3 L166.3,270.4 L164.3,270.4 L162.3,270.4 L160.3,270.5 L158.3,270.5 L156.2,270.6 L154.2,270.6 L152.2,270.7 L150.2,270.7 L148.2,270.7 L146.2,270.8 L144.1,270.8 L142.1,270.9 L140.1,270.9 L138.1,271.0 L136.1,271.0 L134.1,271.0 L132.0,271.1 L130.0,271.1Z"/>
<path d="M128.0,271.4 L130.0,270.5 L132.0,269.9 L134.1,269.4 L136.1,269.1 L138.1,268.9 L140.1,268.8 L142.1,268.7 L144.1,268.6 L146.2,268.6 L148.2,268.5 L150.2,268.5 L152.2,268.4 L154.2,268.4 L156.2,268.4 L158.3,268.3 L160.3,268.3 L162.3,268.3 L164.3,268.2 L166.3,268.2 L168.3,268.1 L170.4,268.0 L172.4,267.9 L174.4,267.8 L176.4,267.6 L178.4,267.4 L180.4,267.2 L182.5,267.0 L184.5,266.8 L186.5,266.6 L188.5,266.5 L190.5,266.3 L192.5,266.1 L194.5,265.9 L196.6,265.7 L198.6,265.5 L200.6,265.3 L202.6,265.1 L204.6,264.9 L206.6,264.7 L208.7,264.5 L210.7,264.3 L212.7,264.1 L214.7,263.9 L216.7,263.7 L218.7,263.5 L220.8,263.2 L222.8,263.0 L224.8,262.7 L226.8,262.4 L228.8,262.1 L230.8,261.8 L232.9,261.5 L234.9,261.1 L236.9,260.6 L238.9,260.2 L240.9,259.7 L242.9,259.1 L244.9,258.4 L247.0,257.7 L249.0,256.9 L251.0,256.0 L253.0,254.9 L255.0,253.8 L257.0,252.5 L259.1,251.1 L261.1,249.5 L263.1,247.7 L265.1,245.8 L267.1,243.7 L269.1,241.4 L271.2,239.0 L273.2,236.4 L275.2,233.6 L277.2,230.7 L279.2,227.7 L281.2,224.6 L283.3,221.5 L285.3,218.4 L287.3,215.4 L289.3,212.4 L291.3,209.6 L293.3,207.0 L295.3,204.6 L297.4,202.4 L299.4,200.4 L301.4,198.6 L303.4,197.0 L305.4,195.7 L307.4,194.5 L309.5,193.4 L311.5,192.5 L313.5,191.8 L315.5,191.1 L317.5,190.5 L319.5,190.0 L321.6,189.6 L323.6,189.2 L325.6,188.9 L327.6,188.6 L329.6,188.4 L331.6,188.2 L333.7,188.0 L335.7,187.8 L337.7,187.7 L339.7,187.6 L341.7,187.5 L343.7,187.4 L345.8,187.3 L347.8,187.2 L349.8,187.1 L351.8,187.0 L353.8,187.0 L355.8,186.9 L357.8,186.8 L359.9,186.8 L361.9,186.7 L363.9,186.7 L365.9,186.6 L367.9,186.6 L369.9,186.6 L372.0,186.5 L374.0,186.5 L376.0,186.4 L378.0,186.3 L380.0,186.2 L382.0,186.0 L384.1,185.8 L386.1,185.6 L388.1,185.4 L390.1,185.1 L392.1,184.8 L394.1,184.5 L396.2,184.1 L398.2,183.8 L400.2,183.4 L402.2,183.0 L404.2,182.6 L406.2,182.2 L408.2,181.8 L410.3,181.3 L412.3,180.9 L414.3,180.4 L416.3,179.9 L418.3,179.4 L420.3,178.9 L422.4,178.4 L424.4,177.8 L426.4,177.3 L428.4,176.7 L430.4,176.1 L432.4,175.5 L434.5,174.9 L436.5,174.3 L438.5,173.7 L440.5,173.0 L442.5,172.4 L444.5,171.7 L446.6,171.1 L448.6,170.4 L450.6,169.7 L452.6,169.0 L454.6,168.2 L456.6,167.5 L458.6,166.8 L460.7,166.0 L462.7,165.3 L464.7,164.5 L466.7,163.7 L468.7,162.9 L470.7,162.1 L468.7,166.5 L466.7,170.1 L464.7,173.4 L462.7,176.4 L460.7,179.3 L458.6,181.9 L456.6,184.4 L454.6,186.8 L452.6,189.1 L450.6,191.3 L448.6,193.5 L446.6,195.5 L444.5,197.5 L442.5,199.4 L440.5,201.3 L438.5,203.1 L436.5,204.8 L434.5,206.5 L432.4,208.1 L430.4,209.7 L428.4,211.2 L426.4,212.7 L424.4,214.2 L422.4,215.6 L420.3,216.9 L418.3,218.3 L416.3,219.6 L414.3,220.8 L412.3,222.0 L410.3,223.2 L408.2,224.4 L406.2,225.5 L404.2,226.6 L402.2,227.6 L400.2,228.7 L398.2,229.7 L396.2,230.7 L394.1,231.6 L392.1,232.5 L390.1,233.5 L388.1,234.3 L386.1,235.2 L384.1,236.0 L382.0,236.9 L380.0,237.7 L378.0,238.4 L376.0,239.2 L374.0,239.9 L372.0,240.7 L369.9,241.4 L367.9,242.1 L365.9,242.7 L363.9,243.4 L361.9,244.0 L359.9,244.7 L357.8,245.3 L355.8,245.9 L353.8,246.5 L351.8,247.0 L349.8,247.6 L347.8,248.2 L345.8,248.7 L343.7,249.2 L341.7,249.7 L339.7,250.3 L337.7,250.8 L335.7,251.2 L333.7,251.7 L331.6,252.2 L329.6,252.6 L327.6,253.1 L325.6,253.5 L323.6,254.0 L321.6,254.4 L319.5,254.8 L317.5,255.2 L315.5,255.6 L313.5,256.0 L311.5,256.4 L309.5,256.8 L307.4,257.2 L305.4,257.6 L303.4,257.9 L301.4,258.3 L299.4,258.7 L297.4,259.0 L295.3,259.4 L293.3,259.7 L291.3,260.0 L289.3,260.4 L287.3,260.7 L285.3,261.0 L283.3,261.3 L281.2,261.6 L279.2,261.9 L277.2,262.2 L275.2,262.5 L273.2,262.8 L271.2,263.1 L269.1,263.3 L267.1,263.6 L265.1,263.9 L263.1,264.1 L261.1,264.4 L259.1,264.6 L257.0,264.9 L255.0,265.1 L253.0,265.4 L251.0,265.6 L249.0,265.8 L247.0,266.0 L244.9,266.2 L242.9,266.4 L240.9,266.6 L238.9,266.8 L236.9,267.0 L234.9,267.2 L232.9,267.4 L230.8,267.6 L228.8,267.7 L226.8,267.9 L224.8,268.1 L222.8,268.2 L220.8,268.3 L218.7,268.5 L216.7,268.6 L214.7,268.7 L212.7,268.9 L210.7,269.0 L208.7,269.1 L206.6,269.2 L204.6,269.3 L202.6,269.4 L200.6,269.5 L198.6,269.6 L196.6,269.7 L194.5,269.8 L192.5,269.8 L190.5,269.9 L188.5,270.0 L186.5,270.1 L184.5,270.1 L182.5,270.2 L180.4,270.2 L178.4,270.3 L176.4,270.4 L174.4,270.4 L172.4,270.5 L170.4,270.5 L168.3,270.6 L166.3,270.6 L164.3,270.7 L162.3,270.7 L160.3,270.8 L158.3,270.8 L156.2,270.8 L154.2,270.9 L152.2,270.9 L150.2,271.0 L148.2,271.0 L146.2,271.1 L144.1,271.1 L142.1,271.1 L140.1,271.2 L138.1,271.2 L136.1,271.3 L134.1,271.3 L132.0,271.3 L130.0,271.4Z"/>
<path d="M128.0,271.6 L130.0,270.3 L132.0,269.5 L134.1,269.0 L136.1,268.6 L138.1,268.4 L140.1,268.2 L142.1,268.1 L144.1,268.0 L146.2,267.9 L148.2,267.9 L150.2,267.8 L152.2,267.8 L154.2,267.7 L156.2,267.7 L158.3,267.7 L160.3,267.6 L162.3,267.6 L164.3,267.6 L166.3,267.5 L168.3,267.4 L170.4,267.3 L172.4,267.2 L174.4,267.0 L176.4,266.8 L178.4,266.5 L180.4,266.3 L182.5,266.0 L184.5,265.8 L186.5,265.6 L188.5,265.3 L190.5,265.1 L192.5,264.9 L194.5,264.6 L196.6,264.4 L198.6,264.1 L200.6,263.9 L202.6,263.7 L204.6,263.4 L206.6,263.2 L208.7,263.0 L210.7,262.7 L212.7,262.5 L214.7,262.3 L216.7,262.0 L218.7,261.8 L220.8,261.5 L222.8,261.3 L224.8,261.0 L226.8,260.8 L228.8,260.5 L230.8,260.2 L232.9,259.9 L234.9,259.6 L236.9,259.2 L238.9,258.8 L240.9,258.4 L242.9,258.0 L244.9,257.5 L247.0,257.0 L249.0,256.4 L251.0,255.7 L253.0,255.0 L255.0,254.2 L257.0,253.2 L259.1,252.2 L261.1,251.0 L263.1,249.7 L265.1,248.3 L267.1,246.7 L269.1,244.9 L271.2,242.9 L273.2,240.7 L275.2,238.4 L277.2,235.8 L279.2,233.0 L281.2,230.1 L283.3,227.0 L285.3,223.7 L287.3,220.3 L289.3,216.8 L291.3,213.3 L293.3,209.8 L295.3,206.4 L297.4,203.0 L299.4,199.9 L301.4,196.9 L303.4,194.2 L305.4,191.7 L307.4,189.5 L309.5,187.5 L311.5,185.7 L313.5,184.1 L315.5,182.8 L317.5,181.6 L319.5,180.6 L321.6,179.7 L323.6,179.0 L325.6,178.3 L327.6,177.8 L329.6,177.3 L331.6,176.9 L333.7,176.5 L335.7,176.2 L337.7,175.9 L339.7,175.7 L341.7,175.5 L343.7,175.3 L345.8,175.2 L347.8,175.0 L349.8,174.9 L351.8,174.8 L353.8,174.7 L355.8,174.6 L357.8,174.5 L359.9,174.5 L361.9,174.4 L363.9,174.3 L365.9,174.3 L367.9,174.2 L369.9,174.1 L372.0,174.1 L374.0,174.0 L376.0,174.0 L378.0,173.9 L380.0,173.7 L382.0,173.4 L384.1,173.2 L386.1,172.8 L388.1,172.5 L390.1,172.1 L392.1,171.7 L394.1,171.2 L396.2,170.7 L398.2,170.2 L400.2,169.7 L402.2,169.1 L404.2,168.5 L406.2,167.9 L408.2,167.3 L410.3,166.6 L412.3,166.0 L414.3,165.3 L416.3,164.6 L418.3,163.8 L420.3,163.1 L422.4,162.3 L424.4,161.5 L426.4,160.7 L428.4,159.8 L430.4,159.0 L432.4,158.1 L434.5,157.2 L436.5,156.3 L438.5,155.4 L440.5,154.5 L442.5,153.5 L444.5,152.5 L446.6,151.5 L448.6,150.5 L450.6,149.5 L452.6,148.5 L454.6,147.4 L456.6,146.3 L458.6,145.2 L460.7,144.1 L462.7,143.0 L464.7,141.9 L466.7,140.7 L468.7,139.6 L470.7,138.4 L468.7,143.6 L466.7,148.0 L464.7,152.0 L462.7,155.7 L460.7,159.1 L458.6,162.4 L456.6,165.5 L454.6,168.4 L452.6,171.2 L450.6,174.0 L448.6,176.6 L446.6,179.1 L444.5,181.6 L442.5,183.9 L440.5,186.2 L438.5,188.4 L436.5,190.6 L434.5,192.6 L432.4,194.6 L430.4,196.6 L428.4,198.5 L426.4,200.3 L424.4,202.1 L422.4,203.8 L420.3,205.5 L418.3,207.1 L416.3,208.7 L414.3,210.3 L412.3,211.8 L410.3,213.2 L408.2,214.6 L406.2,216.0 L404.2,217.4 L402.2,218.7 L400.2,219.9 L398.2,221.2 L396.2,222.4 L394.1,223.6 L392.1,224.7 L390.1,225.8 L388.1,226.9 L386.1,227.9 L384.1,229.0 L382.0,230.0 L380.0,231.0 L378.0,231.9 L376.0,232.8 L374.0,233.8 L372.0,234.6 L369.9,235.5 L367.9,236.3 L365.9,237.2 L363.9,238.0 L361.9,238.8 L359.9,239.5 L357.8,240.3 L355.8,241.0 L353.8,241.7 L351.8,242.4 L349.8,243.1 L347.8,243.8 L345.8,244.5 L343.7,245.1 L341.7,245.7 L339.7,246.4 L337.7,247.0 L335.7,247.6 L333.7,248.1 L331.6,248.7 L329.6,249.3 L327.6,249.8 L325.6,250.4 L323.6,250.9 L321.6,251.4 L319.5,251.9 L317.5,252.4 L315.5,252.9 L313.5,253.4 L311.5,253.9 L309.5,254.3 L307.4,254.8 L305.4,255.3 L303.4,255.7 L301.4,256.1 L299.4,256.6 L297.4,257.0 L295.3,257.4 L293.3,257.8 L291.3,258.2 L289.3,258.6 L287.3,259.0 L285.3,259.4 L283.3,259.8 L281.2,260.1 L279.2,260.5 L277.2,260.9 L275.2,261.2 L273.2,261.6 L271.2,261.9 L269.1,262.2 L267.1,262.5 L265.1,262.9 L263.1,263.2 L261.1,263.5 L259.1,263.8 L257.0,264.1 L255.0,264.4 L253.0,264.6 L251.0,264.9 L249.0,265.2 L247.0,265.4 L244.9,265.7 L242.9,265.9 L240.9,266.2 L238.9,266.4 L236.9,266.6 L234.9,266.9 L232.9,267.1 L230.8,267.3 L228.8,267.5 L226.8,267.7 L224.8,267.8 L222.8,268.0 L220.8,268.2 L218.7,268.4 L216.7,268.5 L214.7,268.7 L212.7,268.8 L210.7,268.9 L208.7,269.1 L206.6,269.2 L204.6,269.3 L202.6,269.4 L200.6,269.5 L198.6,269.6 L196.6,269.7 L194.5,269.8 L192.5,269.9 L190.5,270.0 L188.5,270.1 L186.5,270.1 L184.5,270.2 L182.5,270.3 L180.4,270.3 L178.4,270.4 L176.4,270.5 L174.4,270.5 L172.4,270.6 L170.4,270.6 L168.3,270.7 L166.3,270.7 L164.3,270.8 L162.3,270.8 L160.3,270.9 L158.3,270.9 L156.2,271.0 L154.2,271.0 L152.2,271.1 L150.2,271.1 L148.2,271.1 L146.2,271.2 L144.1,271.2 L142.1,271.3 L140.1,271.3 L138.1,271.4 L136.1,271.4 L134.1,271.4 L132.0,271.5 L130.0,271.5Z"/>
<path d="M128.0,271.8 L130.0,270.3 L132.0,269.3 L134.1,268.6 L136.1,268.1 L138.1,267.8 L140.1,267.6 L142.1,267.4 L144.1,267.3 L146.2,267.3 L148.2,267.2 L150.2,267.1 L152.2,267.1 L154.2,267.1 L156.2,267.0 L158.3,267.0 L160.3,267.0 L162.3,266.9 L164.3,266.9 L166.3,266.7 L168.3,266.4 L170.4,265.9 L172.4,265.3 L174.4,264.9 L176.4,264.5 L178.4,264.2 L180.4,263.9 L182.5,263.5 L184.5,263.2 L186.5,262.9 L188.5,262.6 L190.5,262.3 L192.5,261.9 L194.5,261.6 L196.6,261.3 L198.6,261.0 L200.6,260.7 L202.6,260.4 L204.6,260.0 L206.6,259.7 L208.7,259.4 L210.7,259.1 L212.7,258.8 L214.7,258.4 L216.7,258.1 L218.7,257.8 L220.8,257.5 L222.8,257.1 L224.8,256.8 L226.8,256.4 L228.8,256.0 L230.8,255.6 L232.9,255.2 L234.9,254.8 L236.9,254.3 L238.9,253.8 L240.9,253.3 L242.9,252.7 L244.9,252.1 L247.0,251.4 L249.0,250.7 L251.0,249.8 L253.0,248.9 L255.0,247.9 L257.0,246.8 L259.1,245.6 L261.1,244.3 L263.1,242.8 L265.1,241.2 L267.1,239.5 L269.1,237.5 L271.2,235.4 L273.2,233.1 L275.2,230.6 L277.2,228.0 L279.2,225.1 L281.2,222.1 L283.3,218.9 L285.3,215.4 L287.3,211.8 L289.3,208.1 L291.3,204.2 L293.3,200.2 L295.3,196.1 L297.4,192.1 L299.4,188.2 L301.4,184.5 L303.4,181.0 L305.4,177.7 L307.4,174.8 L309.5,172.2 L311.5,169.9 L313.5,167.9 L315.5,166.1 L317.5,164.6 L319.5,163.3 L321.6,162.2 L323.6,161.2 L325.6,160.4 L327.6,159.7 L329.6,159.1 L331.6,158.6 L333.7,158.2 L335.7,157.8 L337.7,157.5 L339.7,157.2 L341.7,157.0 L343.7,156.8 L345.8,156.6 L347.8,156.4 L349.8,156.3 L351.8,156.2 L353.8,156.0 L355.8,155.9 L357.8,155.8 L359.9,155.8 L361.9,155.7 L363.9,155.6 L365.9,155.5 L367.9,155.5 L369.9,155.4 L372.0,155.3 L374.0,155.3 L376.0,155.2 L378.0,155.1 L380.0,154.9 L382.0,154.7 L384.1,154.4 L386.1,154.0 L388.1,153.6 L390.1,153.2 L392.1,152.8 L394.1,152.3 L396.2,151.8 L398.2,151.3 L400.2,150.7 L402.2,150.2 L404.2,149.6 L406.2,148.9 L408.2,148.3 L410.3,147.6 L412.3,146.9 L414.3,146.2 L416.3,145.4 L418.3,144.7 L420.3,143.9 L422.4,143.1 L424.4,142.3 L426.4,141.4 L428.4,140.6 L430.4,139.7 L432.4,138.8 L434.5,137.9 L436.5,136.9 L438.5,136.0 L440.5,135.0 L442.5,134.0 L444.5,133.0 L446.6,132.0 L448.6,130.9 L450.6,129.9 L452.6,128.8 L454.6,127.7 L456.6,126.6 L458.6,125.5 L460.7,124.3 L462.7,123.2 L464.7,122.0 L466.7,120.8 L468.7,119.6 L470.7,118.4 L468.7,124.0 L466.7,128.8 L464.7,133.2 L462.7,137.3 L460.7,141.2 L458.6,145.0 L456.6,148.5 L454.6,152.0 L452.6,155.3 L450.6,158.4 L448.6,161.5 L446.6,164.4 L444.5,167.3 L442.5,170.1 L440.5,172.7 L438.5,175.3 L436.5,177.8 L434.5,180.3 L432.4,182.6 L430.4,184.9 L428.4,187.1 L426.4,189.3 L424.4,191.3 L422.4,193.4 L420.3,195.3 L418.3,197.2 L416.3,199.1 L414.3,200.9 L412.3,202.6 L410.3,204.3 L408.2,206.0 L406.2,207.6 L404.2,209.2 L402.2,210.7 L400.2,212.2 L398.2,213.6 L396.2,215.0 L394.1,216.4 L392.1,217.7 L390.1,219.0 L388.1,220.3 L386.1,221.5 L384.1,222.7 L382.0,223.9 L380.0,225.0 L378.0,226.2 L376.0,227.2 L374.0,228.3 L372.0,229.3 L369.9,230.3 L367.9,231.3 L365.9,232.3 L363.9,233.2 L361.9,234.2 L359.9,235.0 L357.8,235.9 L355.8,236.8 L353.8,237.6 L351.8,238.4 L349.8,239.2 L347.8,240.0 L345.8,240.8 L343.7,241.5 L341.7,242.3 L339.7,243.0 L337.7,243.7 L335.7,244.4 L333.7,245.1 L331.6,245.7 L329.6,246.4 L327.6,247.0 L325.6,247.6 L323.6,248.3 L321.6,248.9 L319.5,249.4 L317.5,250.0 L315.5,250.6 L313.5,251.2 L311.5,251.7 L309.5,252.3 L307.4,252.8 L305.4,253.3 L303.4,253.8 L301.4,254.3 L299.4,254.8 L297.4,255.3 L295.3,255.8 L293.3,256.3 L291.3,256.7 L289.3,257.2 L287.3,257.6 L285.3,258.1 L283.3,258.5 L281.2,259.0 L279.2,259.4 L277.2,259.8 L275.2,260.2 L273.2,260.6 L271.2,261.0 L269.1,261.4 L267.1,261.7 L265.1,262.1 L263.1,262.5 L261.1,262.8 L259.1,263.2 L257.0,263.5 L255.0,263.8 L253.0,264.1 L251.0,264.5 L249.0,264.8 L247.0,265.1 L244.9,265.4 L242.9,265.6 L240.9,265.9 L238.9,266.2 L236.9,266.4 L234.9,266.7 L232.9,266.9 L230.8,267.2 L228.8,267.4 L226.8,267.6 L224.8,267.8 L222.8,268.0 L220.8,268.2 L218.7,268.4 L216.7,268.6 L214.7,268.7 L212.7,268.9 L210.7,269.0 L208.7,269.2 L206.6,269.3 L204.6,269.5 L202.6,269.6 L200.6,269.7 L198.6,269.8 L196.6,269.9 L194.5,270.0 L192.5,270.1 L190.5,270.2 L188.5,270.3 L186.5,270.4 L184.5,270.4 L182.5,270.5 L180.4,270.6 L178.4,270.7 L176.4,270.7 L174.4,270.8 L172.4,270.8 L170.4,270.9 L168.3,270.9 L166.3,271.0 L164.3,271.1 L162.3,271.1 L160.3,271.1 L158.3,271.2 L156.2,271.2 L154.2,271.3 L152.2,271.3 L150.2,271.4 L148.2,271.4 L146.2,271.5 L144.1,271.5 L142.1,271.5 L140.1,271.6 L138.1,271.6 L136.1,271.7 L134.1,271.7 L132.0,271.7 L130.0,271.8Z"/>
<path d="M128.0,272.1 L130.0,270.2 L132.0,269.0 L134.1,268.2 L136.1,267.6 L138.1,267.3 L140.1,267.0 L142.1,266.8 L144.1,266.7 L146.2,266.6 L148.2,266.5 L150.2,266.5 L152.2,266.4 L154.2,266.4 L156.2,266.3 L158.3,266.3 L160.3,266.3 L162.3,266.2 L164.3,266.1 L166.3,265.9 L168.3,265.5 L170.4,264.8 L172.4,263.9 L174.4,263.3 L176.4,262.8 L178.4,262.3 L180.4,261.9 L182.5,261.5 L184.5,261.0 L186.5,260.6 L188.5,260.2 L190.5,259.7 L192.5,259.3 L194.5,258.8 L196.6,258.4 L198.6,258.0 L200.6,257.5 L202.6,257.1 L204.6,256.6 L206.6,256.2 L208.7,255.7 L210.7,255.3 L212.7,254.8 L214.7,254.3 L216.7,253.9 L218.7,253.4 L220.8,252.9 L222.8,252.4 L224.8,251.8 L226.8,251.3 L228.8,250.7 L230.8,250.1 L232.9,249.5 L234.9,248.8 L236.9,248.1 L238.9,247.4 L240.9,246.6 L242.9,245.8 L244.9,244.9 L247.0,243.9 L249.0,242.8 L251.0,241.7 L253.0,240.5 L255.0,239.2 L257.0,237.8 L259.1,236.2 L261.1,234.6 L263.1,232.8 L265.1,230.9 L267.1,228.8 L269.1,226.6 L271.2,224.3 L273.2,221.8 L275.2,219.1 L277.2,216.4 L279.2,213.4 L281.2,210.3 L283.3,207.1 L285.3,203.7 L287.3,200.1 L289.3,196.3 L291.3,192.3 L293.3,188.2 L295.3,183.9 L297.4,179.6 L299.4,175.3 L301.4,171.1 L303.4,167.1 L305.4,163.2 L307.4,159.7 L309.5,156.5 L311.5,153.6 L313.5,151.0 L315.5,148.7 L317.5,146.7 L319.5,144.9 L321.6,143.4 L323.6,142.1 L325.6,141.0 L327.6,140.0 L329.6,139.2 L331.6,138.4 L333.7,137.8 L335.7,137.3 L337.7,136.8 L339.7,136.4 L341.7,136.0 L343.7,135.7 L345.8,135.4 L347.8,135.2 L349.8,135.0 L351.8,134.8 L353.8,134.6 L355.8,134.5 L357.8,134.3 L359.9,134.2 L361.9,134.1 L363.9,134.0 L365.9,133.9 L367.9,133.8 L369.9,133.7 L372.0,133.7 L374.0,133.6 L376.0,133.5 L378.0,133.4 L380.0,133.1 L382.0,132.8 L384.1,132.4 L386.1,132.0 L388.1,131.5 L390.1,131.0 L392.1,130.5 L394.1,129.9 L396.2,129.3 L398.2,128.6 L400.2,128.0 L402.2,127.2 L404.2,126.5 L406.2,125.7 L408.2,124.9 L410.3,124.1 L412.3,123.2 L414.3,122.3 L416.3,121.4 L418.3,120.4 L420.3,119.5 L422.4,118.5 L424.4,117.5 L426.4,116.4 L428.4,115.3 L430.4,114.2 L432.4,113.1 L434.5,112.0 L436.5,110.8 L438.5,109.6 L440.5,108.4 L442.5,107.2 L444.5,106.0 L446.6,104.7 L448.6,103.4 L450.6,102.1 L452.6,100.7 L454.6,99.4 L456.6,98.0 L458.6,96.6 L460.7,95.2 L462.7,93.8 L464.7,92.3 L466.7,90.8 L468.7,89.4 L470.7,87.8 L468.7,94.5 L466.7,100.2 L464.7,105.5 L462.7,110.5 L460.7,115.2 L458.6,119.7 L456.6,123.9 L454.6,128.1 L452.6,132.0 L450.6,135.9 L448.6,139.5 L446.6,143.1 L444.5,146.5 L442.5,149.8 L440.5,153.1 L438.5,156.2 L436.5,159.2 L434.5,162.1 L432.4,164.9 L430.4,167.7 L428.4,170.3 L426.4,172.9 L424.4,175.4 L422.4,177.9 L420.3,180.2 L418.3,182.5 L416.3,184.8 L414.3,186.9 L412.3,189.0 L410.3,191.1 L408.2,193.1 L406.2,195.0 L404.2,196.9 L402.2,198.7 L400.2,200.5 L398.2,202.3 L396.2,203.9 L394.1,205.6 L392.1,207.2 L390.1,208.8 L388.1,210.3 L386.1,211.8 L384.1,213.2 L382.0,214.6 L380.0,216.0 L378.0,217.3 L376.0,218.6 L374.0,219.9 L372.0,221.1 L369.9,222.4 L367.9,223.5 L365.9,224.7 L363.9,225.8 L361.9,226.9 L359.9,228.0 L357.8,229.1 L355.8,230.1 L353.8,231.1 L351.8,232.1 L349.8,233.0 L347.8,234.0 L345.8,234.9 L343.7,235.8 L341.7,236.7 L339.7,237.5 L337.7,238.4 L335.7,239.2 L333.7,240.0 L331.6,240.8 L329.6,241.6 L327.6,242.4 L325.6,243.1 L323.6,243.9 L321.6,244.6 L319.5,245.3 L317.5,246.0 L315.5,246.7 L313.5,247.4 L311.5,248.0 L309.5,248.7 L307.4,249.3 L305.4,249.9 L303.4,250.6 L301.4,251.2 L299.4,251.8 L297.4,252.4 L295.3,252.9 L293.3,253.5 L291.3,254.1 L289.3,254.6 L287.3,255.1 L285.3,255.7 L283.3,256.2 L281.2,256.7 L279.2,257.2 L277.2,257.7 L275.2,258.2 L273.2,258.7 L271.2,259.1 L269.1,259.6 L267.1,260.0 L265.1,260.5 L263.1,260.9 L261.1,261.3 L259.1,261.8 L257.0,262.2 L255.0,262.6 L253.0,262.9 L251.0,263.3 L249.0,263.7 L247.0,264.0 L244.9,264.4 L242.9,264.7 L240.9,265.1 L238.9,265.4 L236.9,265.7 L234.9,266.0 L232.9,266.3 L230.8,266.5 L228.8,266.8 L226.8,267.1 L224.8,267.3 L222.8,267.6 L220.8,267.8 L218.7,268.0 L216.7,268.2 L214.7,268.4 L212.7,268.6 L210.7,268.8 L208.7,269.0 L206.6,269.1 L204.6,269.3 L202.6,269.4 L200.6,269.6 L198.6,269.7 L196.6,269.8 L194.5,270.0 L192.5,270.1 L190.5,270.2 L188.5,270.3 L186.5,270.4 L184.5,270.5 L182.5,270.6 L180.4,270.6 L178.4,270.7 L176.4,270.8 L174.4,270.9 L172.4,270.9 L170.4,271.0 L168.3,271.1 L166.3,271.1 L164.3,271.2 L162.3,271.2 L160.3,271.3 L158.3,271.4 L156.2,271.4 L154.2,271.5 L152.2,271.5 L150.2,271.6 L148.2,271.6 L146.2,271.7 L144.1,271.7 L142.1,271.8 L140.1,271.8 L138.1,271.9 L136.1,271.9 L134.1,272.0 L132.0,272.0 L130.0,272.0Z"/>
<path d="M128.0,278.1 L130.0,274.0 L132.0,271.2 L134.1,269.4 L136.1,268.2 L138.1,267.4 L140.1,266.9 L142.1,266.5 L144.1,266.2 L146.2,266.1 L148.2,265.9 L150.2,265.8 L152.2,265.8 L154.2,265.7 L156.2,265.7 L158.3,265.6 L160.3,265.6 L162.3,265.5 L164.3,265.4 L166.3,265.1 L168.3,264.6 L170.4,263.6 L172.4,262.5 L174.4,261.6 L176.4,261.0 L178.4,260.4 L180.4,259.8 L182.5,259.2 L184.5,258.6 L186.5,258.0 L188.5,257.4 L190.5,256.9 L192.5,256.3 L194.5,255.7 L196.6,255.1 L198.6,254.5 L200.6,253.9 L202.6,253.3 L204.6,252.7 L206.6,252.1 L208.7,251.5 L210.7,250.9 L212.7,250.3 L214.7,249.6 L216.7,249.0 L218.7,248.4 L220.8,247.7 L222.8,247.0 L224.8,246.3 L226.8,245.6 L228.8,244.8 L230.8,244.1 L232.9,243.3 L234.9,242.4 L236.9,241.5 L238.9,240.6 L240.9,239.6 L242.9,238.6 L244.9,237.5 L247.0,236.3 L249.0,235.1 L251.0,233.7 L253.0,232.3 L255.0,230.8 L257.0,229.2 L259.1,227.5 L261.1,225.7 L263.1,223.7 L265.1,221.6 L267.1,219.4 L269.1,217.1 L271.2,214.6 L273.2,212.0 L275.2,209.2 L277.2,206.3 L279.2,203.3 L281.2,200.1 L283.3,196.8 L285.3,193.3 L287.3,189.8 L289.3,186.0 L291.3,182.2 L293.3,178.2 L295.3,174.1 L297.4,169.8 L299.4,165.5 L301.4,161.2 L303.4,156.8 L305.4,152.5 L307.4,148.4 L309.5,144.4 L311.5,140.6 L313.5,137.0 L315.5,133.7 L317.5,130.6 L319.5,127.8 L321.6,125.2 L323.6,122.9 L325.6,120.8 L327.6,118.9 L329.6,117.3 L331.6,115.7 L333.7,114.4 L335.7,113.2 L337.7,112.1 L339.7,111.2 L341.7,110.3 L343.7,109.6 L345.8,108.9 L347.8,108.3 L349.8,107.8 L351.8,107.3 L353.8,106.9 L355.8,106.5 L357.8,106.1 L359.9,105.8 L361.9,105.6 L363.9,105.3 L365.9,105.1 L367.9,104.9 L369.9,104.7 L372.0,104.5 L374.0,104.4 L376.0,104.2 L378.0,104.0 L380.0,103.7 L382.0,103.3 L384.1,102.9 L386.1,102.4 L388.1,101.9 L390.1,101.4 L392.1,100.8 L394.1,100.2 L396.2,99.5 L398.2,98.8 L400.2,98.1 L402.2,97.4 L404.2,96.6 L406.2,95.8 L408.2,94.9 L410.3,94.1 L412.3,93.2 L414.3,92.3 L416.3,91.3 L418.3,90.3 L420.3,89.3 L422.4,88.3 L424.4,87.3 L426.4,86.2 L428.4,85.1 L430.4,84.0 L432.4,82.8 L434.5,81.6 L436.5,80.4 L438.5,79.2 L440.5,78.0 L442.5,76.7 L444.5,75.4 L446.6,74.1 L448.6,72.8 L450.6,71.5 L452.6,70.1 L454.6,68.7 L456.6,67.3 L458.6,65.9 L460.7,64.4 L462.7,62.9 L464.7,61.5 L466.7,59.9 L468.7,58.4 L470.7,56.9 L468.7,65.0 L466.7,72.0 L464.7,78.5 L462.7,84.5 L460.7,90.3 L458.6,95.8 L456.6,101.1 L454.6,106.2 L452.6,111.0 L450.6,115.7 L448.6,120.2 L446.6,124.6 L444.5,128.8 L442.5,132.9 L440.5,136.8 L438.5,140.6 L436.5,144.3 L434.5,147.9 L432.4,151.3 L430.4,154.7 L428.4,157.9 L426.4,161.1 L424.4,164.2 L422.4,167.1 L420.3,170.0 L418.3,172.8 L416.3,175.5 L414.3,178.2 L412.3,180.8 L410.3,183.3 L408.2,185.7 L406.2,188.0 L404.2,190.3 L402.2,192.6 L400.2,194.7 L398.2,196.8 L396.2,198.9 L394.1,200.9 L392.1,202.8 L390.1,204.7 L388.1,206.6 L386.1,208.4 L384.1,210.1 L382.0,211.8 L380.0,213.5 L378.0,215.1 L376.0,216.7 L374.0,218.2 L372.0,219.7 L369.9,221.2 L367.9,222.6 L365.9,224.0 L363.9,225.3 L361.9,226.7 L359.9,228.0 L357.8,229.2 L355.8,230.5 L353.8,231.7 L351.8,232.8 L349.8,234.0 L347.8,235.1 L345.8,236.2 L343.7,237.3 L341.7,238.3 L339.7,239.4 L337.7,240.4 L335.7,241.4 L333.7,242.3 L331.6,243.3 L329.6,244.2 L327.6,245.1 L325.6,246.0 L323.6,246.9 L321.6,247.8 L319.5,248.6 L317.5,249.4 L315.5,250.2 L313.5,251.0 L311.5,251.8 L309.5,252.6 L307.4,253.3 L305.4,254.1 L303.4,254.8 L301.4,255.5 L299.4,256.2 L297.4,256.9 L295.3,257.6 L293.3,258.2 L291.3,258.9 L289.3,259.5 L287.3,260.2 L285.3,260.8 L283.3,261.4 L281.2,262.0 L279.2,262.6 L277.2,263.1 L275.2,263.7 L273.2,264.3 L271.2,264.8 L269.1,265.3 L267.1,265.8 L265.1,266.4 L263.1,266.9 L261.1,267.3 L259.1,267.8 L257.0,268.3 L255.0,268.7 L253.0,269.2 L251.0,269.6 L249.0,270.0 L247.0,270.4 L244.9,270.8 L242.9,271.2 L240.9,271.6 L238.9,271.9 L236.9,272.2 L234.9,272.6 L232.9,272.9 L230.8,273.2 L228.8,273.5 L226.8,273.8 L224.8,274.0 L222.8,274.3 L220.8,274.6 L218.7,274.8 L216.7,275.0 L214.7,275.2 L212.7,275.4 L210.7,275.6 L208.7,275.8 L206.6,275.9 L204.6,276.1 L202.6,276.3 L200.6,276.4 L198.6,276.5 L196.6,276.6 L194.5,276.7 L192.5,276.8 L190.5,276.9 L188.5,277.0 L186.5,277.1 L184.5,277.2 L182.5,277.3 L180.4,277.3 L178.4,277.4 L176.4,277.4 L174.4,277.5 L172.4,277.5 L170.4,277.6 L168.3,277.6 L166.3,277.7 L164.3,277.7 L162.3,277.7 L160.3,277.8 L158.3,277.8 L156.2,277.8 L154.2,277.8 L152.2,277.9 L150.2,277.9 L148.2,277.9 L146.2,277.9 L144.1,278.0 L142.1,278.0 L140.1,278.0 L138.1,278.0 L136.1,278.0 L134.1,278.1 L132.0,278.1 L130.0,278.1Z"/>
<path d="M128.0,291.5 L130.0,283.3 L132.0,277.8 L134.1,274.2 L136.1,271.8 L138.1,270.2 L140.1,269.2 L142.1,268.5 L144.1,268.0 L146.2,267.7 L148.2,267.4 L150.2,267.3 L152.2,267.2 L154.2,267.1 L156.2,267.0 L158.3,266.9 L160.3,266.9 L162.3,266.8 L164.3,266.7 L166.3,266.4 L168.3,265.7 L170.4,264.4 L172.4,263.0 L174.4,262.0 L176.4,261.2 L178.4,260.4 L180.4,259.7 L182.5,259.0 L184.5,258.3 L186.5,257.5 L188.5,256.8 L190.5,256.1 L192.5,255.3 L194.5,254.6 L196.6,253.9 L198.6,253.2 L200.6,252.4 L202.6,251.7 L204.6,251.0 L206.6,250.2 L208.7,249.5 L210.7,248.7 L212.7,247.9 L214.7,247.2 L216.7,246.4 L218.7,245.6 L220.8,244.8 L222.8,243.9 L224.8,243.1 L226.8,242.2 L228.8,241.3 L230.8,240.4 L232.9,239.4 L234.9,238.4 L236.9,237.4 L238.9,236.3 L240.9,235.1 L242.9,233.9 L244.9,232.6 L247.0,231.3 L249.0,229.9 L251.0,228.3 L253.0,226.7 L255.0,225.0 L257.0,223.2 L259.1,221.3 L261.1,219.2 L263.1,217.0 L265.1,214.7 L267.1,212.2 L269.1,209.6 L271.2,206.8 L273.2,203.8 L275.2,200.7 L277.2,197.5 L279.2,194.1 L281.2,190.5 L283.3,186.8 L285.3,183.0 L287.3,179.0 L289.3,174.9 L291.3,170.8 L293.3,166.5 L295.3,162.2 L297.4,157.9 L299.4,153.5 L301.4,149.2 L303.4,144.9 L305.4,140.6 L307.4,136.5 L309.5,132.4 L311.5,128.5 L313.5,124.7 L315.5,121.0 L317.5,117.6 L319.5,114.3 L321.6,111.1 L323.6,108.2 L325.6,105.4 L327.6,102.8 L329.6,100.4 L331.6,98.2 L333.7,96.1 L335.7,94.2 L337.7,92.4 L339.7,90.7 L341.7,89.2 L343.7,87.9 L345.8,86.6 L347.8,85.4 L349.8,84.4 L351.8,83.4 L353.8,82.5 L355.8,81.7 L357.8,80.9 L359.9,80.3 L361.9,79.6 L363.9,79.1 L365.9,78.6 L367.9,78.1 L369.9,77.7 L372.0,77.3 L374.0,76.9 L376.0,76.6 L378.0,76.2 L380.0,75.7 L382.0,75.2 L384.1,74.6 L386.1,74.0 L388.1,73.4 L390.1,72.7 L392.1,72.0 L394.1,71.3 L396.2,70.5 L398.2,69.7 L400.2,68.9 L402.2,68.1 L404.2,67.2 L406.2,66.3 L408.2,65.4 L410.3,64.5 L412.3,63.5 L414.3,62.5 L416.3,61.5 L418.3,60.4 L420.3,59.4 L422.4,58.3 L424.4,57.2 L426.4,56.0 L428.4,54.9 L430.4,53.7 L432.4,52.5 L434.5,51.3 L436.5,50.0 L438.5,48.7 L440.5,47.4 L442.5,46.1 L444.5,44.8 L446.6,43.4 L448.6,42.0 L450.6,40.6 L452.6,39.2 L454.6,37.7 L456.6,36.2 L458.6,34.7 L460.7,33.2 L462.7,31.7 L464.7,30.1 L466.7,28.6 L468.7,27.0 L470.7,25.4 L468.7,34.2 L466.7,41.8 L464.7,48.9 L462.7,55.5 L460.7,61.8 L458.6,67.9 L456.6,73.7 L454.6,79.3 L452.6,84.6 L450.6,89.8 L448.6,94.8 L446.6,99.6 L444.5,104.3 L442.5,108.8 L440.5,113.1 L438.5,117.4 L436.5,121.5 L434.5,125.5 L432.4,129.3 L430.4,133.1 L428.4,136.7 L426.4,140.3 L424.4,143.7 L422.4,147.1 L420.3,150.3 L418.3,153.5 L416.3,156.6 L414.3,159.6 L412.3,162.5 L410.3,165.3 L408.2,168.1 L406.2,170.8 L404.2,173.4 L402.2,176.0 L400.2,178.4 L398.2,180.9 L396.2,183.2 L394.1,185.5 L392.1,187.8 L390.1,190.0 L388.1,192.1 L386.1,194.2 L384.1,196.3 L382.0,198.3 L380.0,200.2 L378.0,202.1 L376.0,204.0 L374.0,205.8 L372.0,207.6 L369.9,209.3 L367.9,211.0 L365.9,212.7 L363.9,214.3 L361.9,215.9 L359.9,217.4 L357.8,219.0 L355.8,220.4 L353.8,221.9 L351.8,223.3 L349.8,224.8 L347.8,226.1 L345.8,227.5 L343.7,228.8 L341.7,230.1 L339.7,231.4 L337.7,232.6 L335.7,233.9 L333.7,235.1 L331.6,236.3 L329.6,237.4 L327.6,238.6 L325.6,239.7 L323.6,240.8 L321.6,241.9 L319.5,243.0 L317.5,244.1 L315.5,245.1 L313.5,246.1 L311.5,247.2 L309.5,248.2 L307.4,249.1 L305.4,250.1 L303.4,251.1 L301.4,252.0 L299.4,252.9 L297.4,253.8 L295.3,254.7 L293.3,255.6 L291.3,256.5 L289.3,257.4 L287.3,258.2 L285.3,259.0 L283.3,259.9 L281.2,260.7 L279.2,261.5 L277.2,262.3 L275.2,263.1 L273.2,263.8 L271.2,264.6 L269.1,265.3 L267.1,266.1 L265.1,266.8 L263.1,267.5 L261.1,268.2 L259.1,268.9 L257.0,269.5 L255.0,270.2 L253.0,270.8 L251.0,271.5 L249.0,272.1 L247.0,272.7 L244.9,273.3 L242.9,273.9 L240.9,274.5 L238.9,275.0 L236.9,275.6 L234.9,276.1 L232.9,276.6 L230.8,277.1 L228.8,277.6 L226.8,278.1 L224.8,278.6 L222.8,279.0 L220.8,279.5 L218.7,279.9 L216.7,280.3 L214.7,280.7 L212.7,281.1 L210.7,281.5 L208.7,281.8 L206.6,282.2 L204.6,282.6 L202.6,282.9 L200.6,283.2 L198.6,283.5 L196.6,283.8 L194.5,284.1 L192.5,284.4 L190.5,284.7 L188.5,285.0 L186.5,285.2 L184.5,285.5 L182.5,285.8 L180.4,286.0 L178.4,286.3 L176.4,286.5 L174.4,286.7 L172.4,287.0 L170.4,287.2 L168.3,287.4 L166.3,287.6 L164.3,287.8 L162.3,288.1 L160.3,288.3 L158.3,288.5 L156.2,288.7 L154.2,288.9 L152.2,289.1 L150.2,289.3 L148.2,289.5 L146.2,289.7 L144.1,289.9 L142.1,290.1 L140.1,290.3 L138.1,290.5 L136.1,290.7 L134.1,290.9 L132.0,291.1 L130.0,291.3Z"/>
</g>
<path d="M95.5,400.4 V699.4 H574.5" fill="none" stroke="#000" stroke-width="2.4" stroke-linejoin="miter"/>
<line x1="89.9" y1="400.4" x2="95.5" y2="400.4" stroke="#000" stroke-width="2.4" stroke-linecap="butt"/>
<line x1="89.9" y1="460.2" x2="95.5" y2="460.2" stroke="#000" stroke-width="2.4" stroke-linecap="butt"/>
<line x1="89.9" y1="520.0" x2="95.5" y2="520.0" stroke="#000" stroke-width="2.4" stroke-linecap="butt"/>
<line x1="89.9" y1="579.8" x2="95.5" y2="579.8" stroke="#000" stroke-width="2.4" stroke-linecap="butt"/>
<line x1="89.9" y1="639.6" x2="95.5" y2="639.6" stroke="#000" stroke-width="2.4" stroke-linecap="butt"/>
<line x1="89.9" y1="699.4" x2="95.5" y2="699.4" stroke="#000" stroke-width="2.4" stroke-linecap="butt"/>
<line x1="95.5" y1="699.4" x2="95.5" y2="705.0" stroke="#000" stroke-width="2.4" stroke-linecap="butt"/>
<line x1="191.3" y1="699.4" x2="191.3" y2="705.0" stroke="#000" stroke-width="2.4" stroke-linecap="butt"/>
<line x1="287.1" y1="699.4" x2="287.1" y2="705.0" stroke="#000" stroke-width="2.4" stroke-linecap="butt"/>
<line x1="382.9" y1="699.4" x2="382.9" y2="705.0" stroke="#000" stroke-width="2.4" stroke-linecap="butt"/>
<line x1="478.7" y1="699.4" x2="478.7" y2="705.0" stroke="#000" stroke-width="2.4" stroke-linecap="butt"/>
<line x1="574.5" y1="699.4" x2="574.5" y2="705.0" stroke="#000" stroke-width="2.4" stroke-linecap="butt"/>
<text x="80.0" y="406.5" font-size="19" text-anchor="end" >145</text>
<text x="80.0" y="466.3" font-size="19" text-anchor="end" >115</text>
<text x="80.0" y="526.1" font-size="19" text-anchor="end" >85</text>
<text x="80.0" y="585.9" font-size="19" text-anchor="end" >55</text>
<text x="80.0" y="645.7" font-size="19" text-anchor="end" >25</text>
<text x="80.0" y="705.5" font-size="19" text-anchor="end" >-5</text>
<text x="95.5" y="728.0" font-size="19" text-anchor="middle" >0</text>
<text x="191.3" y="728.0" font-size="19" text-anchor="middle" >7</text>
<text x="287.1" y="728.0" font-size="19" text-anchor="middle" >14</text>
<text x="382.9" y="728.0" font-size="19" text-anchor="middle" >21</text>
<text x="478.7" y="728.0" font-size="19" text-anchor="middle" >28</text>
<text x="574.5" y="728.0" font-size="19" text-anchor="middle" >35</text>
<text x="127.5" y="437.0" font-size="20.5" text-anchor="middle" >B</text>
<text transform="translate(19.0,542.4) rotate(-90)" font-size="18.7" text-anchor="middle">Current (µA)</text>
<text x="335.5" y="455.0" font-size="18.5" text-anchor="middle" >y = 4.5689x - 8.4357</text>
<text x="335.6" y="475.3" font-size="18.5" text-anchor="middle" >R² = 0.9928</text>
<text x="213.4" y="759" font-size="18.7">(Scan rate) <tspan font-size="12" dy="-5">1/2</tspan><tspan dy="5"> (mV s </tspan><tspan font-size="12" dy="-5">-1</tspan><tspan dy="5">)</tspan><tspan font-size="12" dy="-5">1/2</tspan></text>
<line x1="126.1" y1="685.9" x2="506.1" y2="433.0" stroke="#000" stroke-width="2.4" stroke-linecap="round"/>
<circle cx="126.1" cy="675.5" r="4.05" fill="none" stroke="#ff0000" stroke-width="2.3"/>
<circle cx="148.5" cy="666.2" r="4.05" fill="none" stroke="#ff0000" stroke-width="2.3"/>
<circle cx="163.9" cy="657.0" r="4.05" fill="none" stroke="#ff0000" stroke-width="2.3"/>
<circle cx="192.3" cy="643.5" r="4.05" fill="none" stroke="#ff0000" stroke-width="2.3"/>
<circle cx="217.9" cy="628.0" r="4.05" fill="none" stroke="#ff0000" stroke-width="2.3"/>
<circle cx="232.4" cy="619.2" r="4.05" fill="none" stroke="#ff0000" stroke-width="2.3"/>
<circle cx="263.1" cy="600.8" r="4.05" fill="none" stroke="#ff0000" stroke-width="2.3"/>
<circle cx="311.9" cy="569.0" r="4.05" fill="none" stroke="#ff0000" stroke-width="2.3"/>
<circle cx="332.5" cy="550.9" r="4.05" fill="none" stroke="#ff0000" stroke-width="2.3"/>
<circle cx="369.2" cy="523.3" r="4.05" fill="none" stroke="#ff0000" stroke-width="2.3"/>
<circle cx="430.7" cy="491.5" r="4.05" fill="none" stroke="#ff0000" stroke-width="2.3"/>
<circle cx="482.6" cy="450.9" r="4.05" fill="none" stroke="#ff0000" stroke-width="2.3"/>
<circle cx="506.1" cy="416.8" r="4.05" fill="none" stroke="#ff0000" stroke-width="2.3"/>
<path d="M94.5,805.4 V1102.5 H585.7" fill="none" stroke="#000" stroke-width="2.4" stroke-linejoin="miter"/>
<line x1="88.9" y1="805.4" x2="94.5" y2="805.4" stroke="#000" stroke-width="2.4" stroke-linecap="butt"/>
<line x1="88.9" y1="879.7" x2="94.5" y2="879.7" stroke="#000" stroke-width="2.4" stroke-linecap="butt"/>
<line x1="88.9" y1="954.0" x2="94.5" y2="954.0" stroke="#000" stroke-width="2.4" stroke-linecap="butt"/>
<line x1="88.9" y1="1028.2" x2="94.5" y2="1028.2" stroke="#000" stroke-width="2.4" stroke-linecap="butt"/>
<line x1="88.9" y1="1102.5" x2="94.5" y2="1102.5" stroke="#000" stroke-width="2.4" stroke-linecap="butt"/>
<line x1="94.5" y1="1102.5" x2="94.5" y2="1108.1" stroke="#000" stroke-width="2.4" stroke-linecap="butt"/>
<line x1="192.7" y1="1102.5" x2="192.7" y2="1108.1" stroke="#000" stroke-width="2.4" stroke-linecap="butt"/>
<line x1="291.0" y1="1102.5" x2="291.0" y2="1108.1" stroke="#000" stroke-width="2.4" stroke-linecap="butt"/>
<line x1="389.2" y1="1102.5" x2="389.2" y2="1108.1" stroke="#000" stroke-width="2.4" stroke-linecap="butt"/>
<line x1="487.5" y1="1102.5" x2="487.5" y2="1108.1" stroke="#000" stroke-width="2.4" stroke-linecap="butt"/>
<line x1="585.7" y1="1102.5" x2="585.7" y2="1108.1" stroke="#000" stroke-width="2.4" stroke-linecap="butt"/>
<text x="78.6" y="811.5" font-size="19" text-anchor="end" >2.5</text>
<text x="78.6" y="885.8" font-size="19" text-anchor="end" >2</text>
<text x="78.6" y="960.1" font-size="19" text-anchor="end" >1.5</text>
<text x="78.6" y="1034.3" font-size="19" text-anchor="end" >1</text>
<text x="78.6" y="1108.6" font-size="19" text-anchor="end" >0.5</text>
<text x="94.5" y="1130.2" font-size="19" text-anchor="middle" >0</text>
<text x="192.7" y="1130.2" font-size="19" text-anchor="middle" >0.7</text>
<text x="291.0" y="1130.2" font-size="19" text-anchor="middle" >1.4</text>
<text x="389.2" y="1130.2" font-size="19" text-anchor="middle" >2.1</text>
<text x="487.5" y="1130.2" font-size="19" text-anchor="middle" >2.8</text>
<text x="585.7" y="1130.2" font-size="19" text-anchor="middle" >3.5</text>
<text x="130.6" y="849.0" font-size="21" text-anchor="middle" >C</text>
<text transform="translate(29.4,949.5) rotate(-90)" font-size="18.9" text-anchor="middle">Log current (µA)</text>
<text x="347.6" y="873.8" font-size="18.85" text-anchor="middle" >y = 0.5792x + 0.3978</text>
<text x="348.4" y="895.3" font-size="18.85" text-anchor="middle" >R² = 0.998</text>
<text x="218.0" y="1160.6" font-size="19.1" style="white-space:pre">Log scan rate  (mV s <tspan font-size="12" dy="-5">-1</tspan><tspan dy="5">)</tspan></text>
<line x1="192.6" y1="1057.5" x2="509.1" y2="863.5" stroke="#000" stroke-width="2.4" stroke-linecap="round"/>
<circle cx="192.6" cy="1051.3" r="4.05" fill="none" stroke="#ff0000" stroke-width="2.3"/>
<circle cx="259.6" cy="1018.3" r="4.05" fill="none" stroke="#ff0000" stroke-width="2.3"/>
<circle cx="290.7" cy="996.9" r="4.05" fill="none" stroke="#ff0000" stroke-width="2.3"/>
<circle cx="332.9" cy="974.3" r="4.05" fill="none" stroke="#ff0000" stroke-width="2.3"/>
<circle cx="361.6" cy="955.6" r="4.05" fill="none" stroke="#ff0000" stroke-width="2.3"/>
<circle cx="375.2" cy="947.0" r="4.05" fill="none" stroke="#ff0000" stroke-width="2.3"/>
<circle cx="399.9" cy="932.0" r="4.05" fill="none" stroke="#ff0000" stroke-width="2.3"/>
<circle cx="431.0" cy="912.2" r="4.05" fill="none" stroke="#ff0000" stroke-width="2.3"/>
<circle cx="442.1" cy="903.1" r="4.05" fill="none" stroke="#ff0000" stroke-width="2.3"/>
<circle cx="459.7" cy="891.4" r="4.05" fill="none" stroke="#ff0000" stroke-width="2.3"/>
<circle cx="484.4" cy="880.1" r="4.05" fill="none" stroke="#ff0000" stroke-width="2.3"/>
<circle cx="501.9" cy="868.1" r="4.05" fill="none" stroke="#ff0000" stroke-width="2.3"/>
<circle cx="509.1" cy="859.5" r="4.05" fill="none" stroke="#ff0000" stroke-width="2.3"/>
</svg>
</body></html>
